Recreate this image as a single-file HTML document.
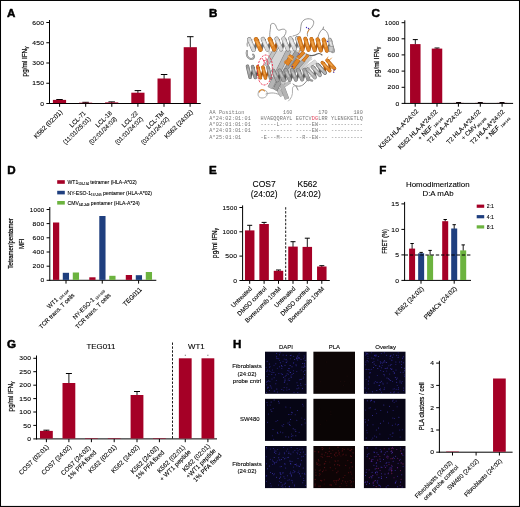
<!DOCTYPE html>
<html><head><meta charset="utf-8"><title>Figure</title>
<style>html,body{margin:0;padding:0;background:#fff;overflow:hidden}svg{display:block}</style></head>
<body>
<svg width="520" height="507" viewBox="0 0 520 507" font-family='"Liberation Sans", Arial, sans-serif'>
<rect x="0.00" y="0.00" width="520.00" height="507.00" fill="#fff"/>
<rect x="0.5" y="0.45" width="519" height="506" fill="none" stroke="#000" stroke-width="1.05"/>
<text transform="translate(6.90,16.70) scale(1.0,1)" font-size="11.6" text-anchor="start" font-weight="bold" fill="#000" stroke="#000" stroke-width="0.5" stroke-linejoin="round">A</text>
<text transform="translate(209.10,16.70) scale(1.0,1)" font-size="11.6" text-anchor="start" font-weight="bold" fill="#000" stroke="#000" stroke-width="0.5" stroke-linejoin="round">B</text>
<text transform="translate(371.40,16.90) scale(1.0,1)" font-size="11.6" text-anchor="start" font-weight="bold" fill="#000" stroke="#000" stroke-width="0.5" stroke-linejoin="round">C</text>
<text transform="translate(7.30,174.30) scale(1.0,1)" font-size="11.6" text-anchor="start" font-weight="bold" fill="#000" stroke="#000" stroke-width="0.5" stroke-linejoin="round">D</text>
<text transform="translate(209.10,174.30) scale(1.0,1)" font-size="11.6" text-anchor="start" font-weight="bold" fill="#000" stroke="#000" stroke-width="0.5" stroke-linejoin="round">E</text>
<text transform="translate(379.30,174.30) scale(1.0,1)" font-size="11.6" text-anchor="start" font-weight="bold" fill="#000" stroke="#000" stroke-width="0.5" stroke-linejoin="round">F</text>
<text transform="translate(6.90,348.10) scale(1.0,1)" font-size="11.6" text-anchor="start" font-weight="bold" fill="#000" stroke="#000" stroke-width="0.5" stroke-linejoin="round">G</text>
<text transform="translate(232.90,348.10) scale(1.0,1)" font-size="11.6" text-anchor="start" font-weight="bold" fill="#000" stroke="#000" stroke-width="0.5" stroke-linejoin="round">H</text>
<line x1="49.50" y1="20.00" x2="49.50" y2="104.00" stroke="#000" stroke-width="1.0" />
<line x1="49.00" y1="103.50" x2="200.70" y2="103.50" stroke="#000" stroke-width="1.0" />
<line x1="46.30" y1="22.50" x2="49.50" y2="22.50" stroke="#000" stroke-width="1.0" />
<text transform="translate(44.30,24.66) scale(1.12,1)" font-size="6.0" text-anchor="end" font-weight="normal" fill="#000" letter-spacing="0.28" stroke="#000" stroke-width="0.1">600</text>
<line x1="46.30" y1="42.75" x2="49.50" y2="42.75" stroke="#000" stroke-width="1.0" />
<text transform="translate(44.30,44.91) scale(1.12,1)" font-size="6.0" text-anchor="end" font-weight="normal" fill="#000" letter-spacing="0.28" stroke="#000" stroke-width="0.1">450</text>
<line x1="46.30" y1="63.00" x2="49.50" y2="63.00" stroke="#000" stroke-width="1.0" />
<text transform="translate(44.30,65.16) scale(1.12,1)" font-size="6.0" text-anchor="end" font-weight="normal" fill="#000" letter-spacing="0.28" stroke="#000" stroke-width="0.1">300</text>
<line x1="46.30" y1="83.25" x2="49.50" y2="83.25" stroke="#000" stroke-width="1.0" />
<text transform="translate(44.30,85.41) scale(1.12,1)" font-size="6.0" text-anchor="end" font-weight="normal" fill="#000" letter-spacing="0.28" stroke="#000" stroke-width="0.1">150</text>
<line x1="46.30" y1="103.50" x2="49.50" y2="103.50" stroke="#000" stroke-width="1.0" />
<text transform="translate(44.30,105.66) scale(1.12,1)" font-size="6.0" text-anchor="end" font-weight="normal" fill="#000" letter-spacing="0.28" stroke="#000" stroke-width="0.1">0</text>
<line x1="59.60" y1="103.50" x2="59.60" y2="106.80" stroke="#000" stroke-width="1.0" />
<line x1="85.70" y1="103.50" x2="85.70" y2="106.80" stroke="#000" stroke-width="1.0" />
<line x1="111.80" y1="103.50" x2="111.80" y2="106.80" stroke="#000" stroke-width="1.0" />
<line x1="137.90" y1="103.50" x2="137.90" y2="106.80" stroke="#000" stroke-width="1.0" />
<line x1="164.00" y1="103.50" x2="164.00" y2="106.80" stroke="#000" stroke-width="1.0" />
<line x1="190.10" y1="103.50" x2="190.10" y2="106.80" stroke="#000" stroke-width="1.0" />
<line x1="59.50" y1="99.50" x2="59.50" y2="100.40" stroke="#000" stroke-width="0.9" />
<line x1="56.25" y1="99.50" x2="62.75" y2="99.50" stroke="#000" stroke-width="1.0" />
<rect x="52.90" y="99.90" width="13.20" height="3.20" fill="#a50026"/>
<line x1="85.60" y1="102.30" x2="85.60" y2="103.20" stroke="#000" stroke-width="0.9" />
<line x1="82.35" y1="102.30" x2="88.85" y2="102.30" stroke="#000" stroke-width="1.0" />
<rect x="79.00" y="102.70" width="13.20" height="0.40" fill="#a50026"/>
<line x1="111.70" y1="101.90" x2="111.70" y2="102.90" stroke="#000" stroke-width="0.9" />
<line x1="108.45" y1="101.90" x2="114.95" y2="101.90" stroke="#000" stroke-width="1.0" />
<rect x="105.10" y="102.40" width="13.20" height="0.70" fill="#a50026"/>
<line x1="137.90" y1="90.60" x2="137.90" y2="93.20" stroke="#000" stroke-width="0.9" />
<line x1="134.65" y1="90.60" x2="141.15" y2="90.60" stroke="#000" stroke-width="1.0" />
<rect x="131.30" y="92.70" width="13.20" height="10.40" fill="#a50026"/>
<line x1="164.10" y1="74.50" x2="164.10" y2="79.00" stroke="#000" stroke-width="0.9" />
<line x1="160.85" y1="74.50" x2="167.35" y2="74.50" stroke="#000" stroke-width="1.0" />
<rect x="157.50" y="78.50" width="13.20" height="24.60" fill="#a50026"/>
<line x1="190.30" y1="36.70" x2="190.30" y2="47.70" stroke="#000" stroke-width="0.9" />
<line x1="187.05" y1="36.70" x2="193.55" y2="36.70" stroke="#000" stroke-width="1.0" />
<rect x="183.70" y="47.20" width="13.20" height="55.90" fill="#a50026"/>
<g transform="translate(27.30,61.50) rotate(-90) scale(0.84,1)"><text x="0" y="0" font-size="7.6" text-anchor="middle" font-weight="normal" stroke="#000" stroke-width="0.2">pg/ml IFN<tspan font-size="5.2" dy="1">γ</tspan></text></g>
<g transform="translate(62.80,112.60) rotate(-45) scale(0.98,1)">
<text x="0.00" y="0.00" font-size="6.6" text-anchor="end" stroke="#000" stroke-width="0.1">K562 (02:01)</text>
</g>
<g transform="translate(86.30,113.50) rotate(-45) scale(0.98,1)">
<text x="0.00" y="0.00" font-size="6.3" text-anchor="end" stroke="#000" stroke-width="0.1">LCL-71</text>
<text x="-0.60" y="7.50" font-size="6.3" text-anchor="end" stroke="#000" stroke-width="0.1">(11:01/25:01)</text>
</g>
<g transform="translate(112.40,113.50) rotate(-45) scale(0.98,1)">
<text x="0.00" y="0.00" font-size="6.3" text-anchor="end" stroke="#000" stroke-width="0.1">LCL-18</text>
<text x="-0.60" y="7.50" font-size="6.3" text-anchor="end" stroke="#000" stroke-width="0.1">(02:01/24:03)</text>
</g>
<g transform="translate(138.50,113.50) rotate(-45) scale(0.98,1)">
<text x="0.00" y="0.00" font-size="6.3" text-anchor="end" stroke="#000" stroke-width="0.1">LCL-22</text>
<text x="-0.60" y="7.50" font-size="6.3" text-anchor="end" stroke="#000" stroke-width="0.1">(01:01/24:02)</text>
</g>
<g transform="translate(164.60,113.50) rotate(-45) scale(0.98,1)">
<text x="0.00" y="0.00" font-size="6.3" text-anchor="end" stroke="#000" stroke-width="0.1">LCL-TM</text>
<text x="-0.60" y="7.50" font-size="6.3" text-anchor="end" stroke="#000" stroke-width="0.1">(03:01/24:02)</text>
</g>
<g transform="translate(193.30,112.60) rotate(-45) scale(0.98,1)">
<text x="0.00" y="0.00" font-size="6.6" text-anchor="end" stroke="#000" stroke-width="0.1">K562 (24:02)</text>
</g>
<line x1="404.80" y1="20.30" x2="404.80" y2="103.90" stroke="#000" stroke-width="1.0" />
<line x1="404.30" y1="103.40" x2="513.10" y2="103.40" stroke="#000" stroke-width="1.0" />
<line x1="401.60" y1="22.70" x2="404.80" y2="22.70" stroke="#000" stroke-width="1.0" />
<text transform="translate(399.60,24.86) scale(1.03,1)" font-size="6.0" text-anchor="end" font-weight="normal" fill="#000" letter-spacing="0.28" stroke="#000" stroke-width="0.1">1000</text>
<line x1="401.60" y1="38.80" x2="404.80" y2="38.80" stroke="#000" stroke-width="1.0" />
<text transform="translate(399.60,40.96) scale(1.12,1)" font-size="6.0" text-anchor="end" font-weight="normal" fill="#000" letter-spacing="0.28" stroke="#000" stroke-width="0.1">800</text>
<line x1="401.60" y1="54.90" x2="404.80" y2="54.90" stroke="#000" stroke-width="1.0" />
<text transform="translate(399.60,57.06) scale(1.12,1)" font-size="6.0" text-anchor="end" font-weight="normal" fill="#000" letter-spacing="0.28" stroke="#000" stroke-width="0.1">600</text>
<line x1="401.60" y1="71.10" x2="404.80" y2="71.10" stroke="#000" stroke-width="1.0" />
<text transform="translate(399.60,73.26) scale(1.12,1)" font-size="6.0" text-anchor="end" font-weight="normal" fill="#000" letter-spacing="0.28" stroke="#000" stroke-width="0.1">400</text>
<line x1="401.60" y1="87.30" x2="404.80" y2="87.30" stroke="#000" stroke-width="1.0" />
<text transform="translate(399.60,89.46) scale(1.12,1)" font-size="6.0" text-anchor="end" font-weight="normal" fill="#000" letter-spacing="0.28" stroke="#000" stroke-width="0.1">200</text>
<line x1="401.60" y1="103.40" x2="404.80" y2="103.40" stroke="#000" stroke-width="1.0" />
<text transform="translate(399.60,105.56) scale(1.12,1)" font-size="6.0" text-anchor="end" font-weight="normal" fill="#000" letter-spacing="0.28" stroke="#000" stroke-width="0.1">0</text>
<line x1="415.20" y1="103.40" x2="415.20" y2="106.70" stroke="#000" stroke-width="1.0" />
<line x1="437.00" y1="103.40" x2="437.00" y2="106.70" stroke="#000" stroke-width="1.0" />
<line x1="458.40" y1="103.40" x2="458.40" y2="106.70" stroke="#000" stroke-width="1.0" />
<line x1="480.30" y1="103.40" x2="480.30" y2="106.70" stroke="#000" stroke-width="1.0" />
<line x1="502.10" y1="103.40" x2="502.10" y2="106.70" stroke="#000" stroke-width="1.0" />
<line x1="415.30" y1="39.60" x2="415.30" y2="44.60" stroke="#000" stroke-width="0.9" />
<line x1="412.80" y1="39.60" x2="417.80" y2="39.60" stroke="#000" stroke-width="1.0" />
<rect x="410.05" y="44.10" width="10.50" height="58.90" fill="#a50026"/>
<line x1="437.00" y1="48.00" x2="437.00" y2="49.10" stroke="#000" stroke-width="0.9" />
<line x1="434.50" y1="48.00" x2="439.50" y2="48.00" stroke="#000" stroke-width="1.0" />
<rect x="431.75" y="48.60" width="10.50" height="54.40" fill="#a50026"/>
<line x1="458.60" y1="102.50" x2="458.60" y2="103.40" stroke="#000" stroke-width="0.9" />
<line x1="456.10" y1="102.50" x2="461.10" y2="102.50" stroke="#000" stroke-width="1.0" />
<rect x="453.35" y="102.90" width="10.50" height="0.10" fill="#a50026"/>
<line x1="480.30" y1="102.50" x2="480.30" y2="103.40" stroke="#000" stroke-width="0.9" />
<line x1="477.80" y1="102.50" x2="482.80" y2="102.50" stroke="#000" stroke-width="1.0" />
<rect x="475.05" y="102.90" width="10.50" height="0.10" fill="#a50026"/>
<line x1="502.00" y1="102.50" x2="502.00" y2="103.40" stroke="#000" stroke-width="0.9" />
<line x1="499.50" y1="102.50" x2="504.50" y2="102.50" stroke="#000" stroke-width="1.0" />
<rect x="496.75" y="102.90" width="10.50" height="0.10" fill="#a50026"/>
<g transform="translate(379.30,61.80) rotate(-90) scale(0.84,1)"><text x="0" y="0" font-size="7.6" text-anchor="middle" font-weight="normal" stroke="#000" stroke-width="0.2">pg/ml IFN<tspan font-size="5.2" dy="1">γ</tspan></text></g>
<g transform="translate(418.70,111.80) rotate(-45) scale(0.98,1)">
<text x="0.00" y="0.00" font-size="6.4" text-anchor="end" stroke="#000" stroke-width="0.1">K562 HLA-A*24:02</text>
</g>
<g transform="translate(437.90,112.40) rotate(-45) scale(0.98,1)">
<text x="0.00" y="0.00" font-size="6.4" text-anchor="end" stroke="#000" stroke-width="0.1">K562 HLA-A*24:02</text>
<text x="-0.60" y="7.50" font-size="6.4" text-anchor="end" stroke="#000" stroke-width="0.1">+ NEF <tspan font-size="3.4" dy="1.2">134-144</tspan><tspan dy="-1.2">​</tspan></text>
</g>
<g transform="translate(461.90,111.80) rotate(-45) scale(0.98,1)">
<text x="0.00" y="0.00" font-size="6.4" text-anchor="end" stroke="#000" stroke-width="0.1">T2 HLA-A*24:02</text>
</g>
<g transform="translate(481.20,112.40) rotate(-45) scale(0.98,1)">
<text x="0.00" y="0.00" font-size="6.4" text-anchor="end" stroke="#000" stroke-width="0.1">T2 HLA-A*24:02</text>
<text x="-0.60" y="7.50" font-size="6.4" text-anchor="end" stroke="#000" stroke-width="0.1">+ CMV<tspan font-size="3.4" dy="1.2">341-349</tspan><tspan dy="-1.2">​</tspan></text>
</g>
<g transform="translate(505.00,112.40) rotate(-45) scale(0.98,1)">
<text x="0.00" y="0.00" font-size="6.4" text-anchor="end" stroke="#000" stroke-width="0.1">T2 HLA-A*24:02</text>
<text x="-0.60" y="7.50" font-size="6.4" text-anchor="end" stroke="#000" stroke-width="0.1">+ NEF <tspan font-size="3.4" dy="1.2">134-144</tspan><tspan dy="-1.2">​</tspan></text>
</g>
<line x1="49.80" y1="207.00" x2="49.80" y2="280.80" stroke="#000" stroke-width="1.0" />
<line x1="49.30" y1="280.30" x2="156.30" y2="280.30" stroke="#000" stroke-width="1.0" />
<line x1="46.60" y1="209.50" x2="49.80" y2="209.50" stroke="#000" stroke-width="1.0" />
<text transform="translate(44.60,211.66) scale(1.03,1)" font-size="6.0" text-anchor="end" font-weight="normal" fill="#000" letter-spacing="0.28" stroke="#000" stroke-width="0.1">1000</text>
<line x1="46.60" y1="223.60" x2="49.80" y2="223.60" stroke="#000" stroke-width="1.0" />
<text transform="translate(44.60,225.76) scale(1.12,1)" font-size="6.0" text-anchor="end" font-weight="normal" fill="#000" letter-spacing="0.28" stroke="#000" stroke-width="0.1">800</text>
<line x1="46.60" y1="237.80" x2="49.80" y2="237.80" stroke="#000" stroke-width="1.0" />
<text transform="translate(44.60,239.96) scale(1.12,1)" font-size="6.0" text-anchor="end" font-weight="normal" fill="#000" letter-spacing="0.28" stroke="#000" stroke-width="0.1">600</text>
<line x1="46.60" y1="252.00" x2="49.80" y2="252.00" stroke="#000" stroke-width="1.0" />
<text transform="translate(44.60,254.16) scale(1.12,1)" font-size="6.0" text-anchor="end" font-weight="normal" fill="#000" letter-spacing="0.28" stroke="#000" stroke-width="0.1">400</text>
<line x1="46.60" y1="266.20" x2="49.80" y2="266.20" stroke="#000" stroke-width="1.0" />
<text transform="translate(44.60,268.36) scale(1.12,1)" font-size="6.0" text-anchor="end" font-weight="normal" fill="#000" letter-spacing="0.28" stroke="#000" stroke-width="0.1">200</text>
<line x1="46.60" y1="280.30" x2="49.80" y2="280.30" stroke="#000" stroke-width="1.0" />
<text transform="translate(44.60,282.46) scale(1.12,1)" font-size="6.0" text-anchor="end" font-weight="normal" fill="#000" letter-spacing="0.28" stroke="#000" stroke-width="0.1">0</text>
<line x1="66.00" y1="280.30" x2="66.00" y2="283.60" stroke="#000" stroke-width="1.0" />
<line x1="102.25" y1="280.30" x2="102.25" y2="283.60" stroke="#000" stroke-width="1.0" />
<line x1="138.60" y1="280.30" x2="138.60" y2="283.60" stroke="#000" stroke-width="1.0" />
<rect x="52.98" y="222.50" width="6.25" height="57.40" fill="#a50026"/>
<rect x="62.78" y="272.80" width="6.25" height="7.10" fill="#1f3f7f"/>
<rect x="72.78" y="272.50" width="6.25" height="7.40" fill="#6cb33f"/>
<rect x="89.28" y="277.30" width="6.25" height="2.60" fill="#a50026"/>
<rect x="99.28" y="216.00" width="6.25" height="63.90" fill="#1f3f7f"/>
<rect x="109.28" y="275.80" width="6.25" height="4.10" fill="#6cb33f"/>
<rect x="125.78" y="275.00" width="6.25" height="4.90" fill="#a50026"/>
<rect x="135.78" y="275.20" width="6.25" height="4.70" fill="#1f3f7f"/>
<rect x="145.78" y="272.00" width="6.25" height="7.90" fill="#6cb33f"/>
<g transform="translate(13.00,243.50) rotate(-90) scale(0.83,1)"><text x="0" y="0" font-size="7.2" text-anchor="middle" font-weight="normal" stroke="#000" stroke-width="0.2">Tetramer/pentamer</text></g>
<g transform="translate(24.30,243.70) rotate(-90) scale(0.85,1)"><text x="0" y="0" font-size="7.2" text-anchor="middle" font-weight="normal" stroke="#000" stroke-width="0.2">MFI</text></g>
<rect x="57.20" y="180.20" width="7.60" height="3.60" fill="#a50026"/>
<text transform="translate(67.50,184.10) scale(0.91,1)" font-size="5.6" text-anchor="start" font-weight="normal" fill="#000" stroke="#000" stroke-width="0.1">WT1<tspan font-size="3.2" dy="1.1">126-134</tspan><tspan dy="-1.1">​</tspan> tetramer (HLA-A*02)</text>
<rect x="57.20" y="190.80" width="7.60" height="3.60" fill="#1f3f7f"/>
<text transform="translate(67.50,194.70) scale(0.91,1)" font-size="5.6" text-anchor="start" font-weight="normal" fill="#000" stroke="#000" stroke-width="0.1">NY-ESO-1<tspan font-size="3.2" dy="1.1">157-165</tspan><tspan dy="-1.1">​</tspan> pentamer (HLA-A*02)</text>
<rect x="57.20" y="201.00" width="7.60" height="3.60" fill="#6cb33f"/>
<text transform="translate(67.50,204.90) scale(0.91,1)" font-size="5.6" text-anchor="start" font-weight="normal" fill="#000" stroke="#000" stroke-width="0.1">CMV<tspan font-size="3.2" dy="1.1">341-349</tspan><tspan dy="-1.1">​</tspan> pentamer (HLA-A*24)</text>
<g transform="translate(68.30,290.40) rotate(-45) scale(0.98,1)">
<text x="-0.00" y="0.00" font-size="6.1" text-anchor="end" stroke="#000" stroke-width="0.1">WT1 <tspan font-size="3.4" dy="1.2">126-134</tspan><tspan dy="-1.2">​</tspan></text>
<text x="1.00" y="8.40" font-size="6.1" text-anchor="end" stroke="#000" stroke-width="0.1">TCR trans. T cells</text>
</g>
<g transform="translate(104.55,290.40) rotate(-45) scale(0.98,1)">
<text x="-0.00" y="0.00" font-size="6.1" text-anchor="end" stroke="#000" stroke-width="0.1">NY-ESO-1 <tspan font-size="3.4" dy="1.2">157-165</tspan><tspan dy="-1.2">​</tspan></text>
<text x="1.00" y="8.40" font-size="6.1" text-anchor="end" stroke="#000" stroke-width="0.1">TCR trans. T cells</text>
</g>
<g transform="translate(142.20,290.00) rotate(-45) scale(0.98,1)">
<text x="0.00" y="0.00" font-size="6.6" text-anchor="end" stroke="#000" stroke-width="0.1">TEG011</text>
</g>
<line x1="242.60" y1="205.40" x2="242.60" y2="281.00" stroke="#000" stroke-width="1.0" />
<line x1="242.10" y1="280.50" x2="329.80" y2="280.50" stroke="#000" stroke-width="1.0" />
<line x1="239.40" y1="207.50" x2="242.60" y2="207.50" stroke="#000" stroke-width="1.0" />
<text transform="translate(237.40,209.66) scale(1.03,1)" font-size="6.0" text-anchor="end" font-weight="normal" fill="#000" letter-spacing="0.28" stroke="#000" stroke-width="0.1">1500</text>
<line x1="239.40" y1="231.80" x2="242.60" y2="231.80" stroke="#000" stroke-width="1.0" />
<text transform="translate(237.40,233.96) scale(1.03,1)" font-size="6.0" text-anchor="end" font-weight="normal" fill="#000" letter-spacing="0.28" stroke="#000" stroke-width="0.1">1000</text>
<line x1="239.40" y1="256.10" x2="242.60" y2="256.10" stroke="#000" stroke-width="1.0" />
<text transform="translate(237.40,258.26) scale(1.12,1)" font-size="6.0" text-anchor="end" font-weight="normal" fill="#000" letter-spacing="0.28" stroke="#000" stroke-width="0.1">500</text>
<line x1="239.40" y1="280.50" x2="242.60" y2="280.50" stroke="#000" stroke-width="1.0" />
<text transform="translate(237.40,282.66) scale(1.12,1)" font-size="6.0" text-anchor="end" font-weight="normal" fill="#000" letter-spacing="0.28" stroke="#000" stroke-width="0.1">0</text>
<line x1="249.70" y1="280.50" x2="249.70" y2="283.80" stroke="#000" stroke-width="1.0" />
<line x1="264.10" y1="280.50" x2="264.10" y2="283.80" stroke="#000" stroke-width="1.0" />
<line x1="278.50" y1="280.50" x2="278.50" y2="283.80" stroke="#000" stroke-width="1.0" />
<line x1="293.00" y1="280.50" x2="293.00" y2="283.80" stroke="#000" stroke-width="1.0" />
<line x1="307.30" y1="280.50" x2="307.30" y2="283.80" stroke="#000" stroke-width="1.0" />
<line x1="321.80" y1="280.50" x2="321.80" y2="283.80" stroke="#000" stroke-width="1.0" />
<line x1="249.70" y1="225.30" x2="249.70" y2="230.90" stroke="#000" stroke-width="0.9" />
<line x1="247.20" y1="225.30" x2="252.20" y2="225.30" stroke="#000" stroke-width="1.0" />
<rect x="244.95" y="230.40" width="9.50" height="49.70" fill="#a50026"/>
<line x1="264.10" y1="222.40" x2="264.10" y2="224.50" stroke="#000" stroke-width="0.9" />
<line x1="261.60" y1="222.40" x2="266.60" y2="222.40" stroke="#000" stroke-width="1.0" />
<rect x="259.35" y="224.00" width="9.50" height="56.10" fill="#a50026"/>
<line x1="278.50" y1="270.00" x2="278.50" y2="271.30" stroke="#000" stroke-width="0.9" />
<line x1="276.00" y1="270.00" x2="281.00" y2="270.00" stroke="#000" stroke-width="1.0" />
<rect x="273.75" y="270.80" width="9.50" height="9.30" fill="#a50026"/>
<line x1="293.00" y1="241.70" x2="293.00" y2="247.10" stroke="#000" stroke-width="0.9" />
<line x1="290.50" y1="241.70" x2="295.50" y2="241.70" stroke="#000" stroke-width="1.0" />
<rect x="288.25" y="246.60" width="9.50" height="33.50" fill="#a50026"/>
<line x1="307.30" y1="238.20" x2="307.30" y2="247.40" stroke="#000" stroke-width="0.9" />
<line x1="304.80" y1="238.20" x2="309.80" y2="238.20" stroke="#000" stroke-width="1.0" />
<rect x="302.55" y="246.90" width="9.50" height="33.20" fill="#a50026"/>
<line x1="321.80" y1="265.70" x2="321.80" y2="267.00" stroke="#000" stroke-width="0.9" />
<line x1="319.30" y1="265.70" x2="324.30" y2="265.70" stroke="#000" stroke-width="1.0" />
<rect x="317.05" y="266.50" width="9.50" height="13.60" fill="#a50026"/>
<line x1="285.70" y1="207.20" x2="285.70" y2="280.50" stroke="#000" stroke-width="0.9" stroke-dasharray="2.4 1.5"/>
<g transform="translate(217.20,243.00) rotate(-90) scale(0.84,1)"><text x="0" y="0" font-size="7.6" text-anchor="middle" font-weight="normal" stroke="#000" stroke-width="0.2">pg/ml IFN<tspan font-size="5.2" dy="1">γ</tspan></text></g>
<text transform="translate(264.20,186.60) scale(1.0,1)" font-size="8.5" text-anchor="middle" font-weight="normal" fill="#000" stroke="#000" stroke-width="0.1">COS7</text>
<text transform="translate(264.20,196.80) scale(1.0,1)" font-size="8.5" text-anchor="middle" font-weight="normal" fill="#000" stroke="#000" stroke-width="0.1">(24:02)</text>
<text transform="translate(307.40,186.60) scale(1.0,1)" font-size="8.5" text-anchor="middle" font-weight="normal" fill="#000" stroke="#000" stroke-width="0.1">K562</text>
<text transform="translate(307.40,196.80) scale(1.0,1)" font-size="8.5" text-anchor="middle" font-weight="normal" fill="#000" stroke="#000" stroke-width="0.1">(24:02)</text>
<g transform="translate(252.50,289.10) rotate(-45) scale(0.98,1)">
<text x="0.00" y="0.00" font-size="6.25" text-anchor="end" stroke="#000" stroke-width="0.1">Untreated</text>
</g>
<g transform="translate(266.90,289.10) rotate(-45) scale(0.98,1)">
<text x="0.00" y="0.00" font-size="6.25" text-anchor="end" stroke="#000" stroke-width="0.1">DMSO control</text>
</g>
<g transform="translate(281.30,289.10) rotate(-45) scale(0.98,1)">
<text x="0.00" y="0.00" font-size="6.25" text-anchor="end" stroke="#000" stroke-width="0.1">Bortezomib 10nM</text>
</g>
<g transform="translate(295.80,289.10) rotate(-45) scale(0.98,1)">
<text x="0.00" y="0.00" font-size="6.25" text-anchor="end" stroke="#000" stroke-width="0.1">Untreated</text>
</g>
<g transform="translate(310.10,289.10) rotate(-45) scale(0.98,1)">
<text x="0.00" y="0.00" font-size="6.25" text-anchor="end" stroke="#000" stroke-width="0.1">DMSO control</text>
</g>
<g transform="translate(324.60,289.10) rotate(-45) scale(0.98,1)">
<text x="0.00" y="0.00" font-size="6.25" text-anchor="end" stroke="#000" stroke-width="0.1">Bortezomib 10nM</text>
</g>
<line x1="404.60" y1="201.90" x2="404.60" y2="280.90" stroke="#000" stroke-width="1.0" />
<line x1="404.10" y1="280.40" x2="471.00" y2="280.40" stroke="#000" stroke-width="1.0" />
<line x1="401.40" y1="203.90" x2="404.60" y2="203.90" stroke="#000" stroke-width="1.0" />
<text transform="translate(399.40,206.06) scale(1.12,1)" font-size="6.0" text-anchor="end" font-weight="normal" fill="#000" letter-spacing="0.28" stroke="#000" stroke-width="0.1">15</text>
<line x1="401.40" y1="229.40" x2="404.60" y2="229.40" stroke="#000" stroke-width="1.0" />
<text transform="translate(399.40,231.56) scale(1.12,1)" font-size="6.0" text-anchor="end" font-weight="normal" fill="#000" letter-spacing="0.28" stroke="#000" stroke-width="0.1">10</text>
<line x1="401.40" y1="254.90" x2="404.60" y2="254.90" stroke="#000" stroke-width="1.0" />
<text transform="translate(399.40,257.06) scale(1.12,1)" font-size="6.0" text-anchor="end" font-weight="normal" fill="#000" letter-spacing="0.28" stroke="#000" stroke-width="0.1">5</text>
<line x1="401.40" y1="280.40" x2="404.60" y2="280.40" stroke="#000" stroke-width="1.0" />
<text transform="translate(399.40,282.56) scale(1.12,1)" font-size="6.0" text-anchor="end" font-weight="normal" fill="#000" letter-spacing="0.28" stroke="#000" stroke-width="0.1">0</text>
<line x1="421.00" y1="280.40" x2="421.00" y2="283.70" stroke="#000" stroke-width="1.0" />
<line x1="454.20" y1="280.40" x2="454.20" y2="283.70" stroke="#000" stroke-width="1.0" />
<line x1="412.10" y1="243.50" x2="412.10" y2="249.10" stroke="#000" stroke-width="0.9" />
<line x1="410.40" y1="243.50" x2="413.80" y2="243.50" stroke="#000" stroke-width="1.0" />
<rect x="409.10" y="248.60" width="6.00" height="31.40" fill="#a50026"/>
<line x1="421.15" y1="252.40" x2="421.15" y2="253.80" stroke="#000" stroke-width="0.9" />
<line x1="419.45" y1="252.40" x2="422.85" y2="252.40" stroke="#000" stroke-width="1.0" />
<rect x="418.15" y="253.30" width="6.00" height="26.70" fill="#1f3f7f"/>
<line x1="430.10" y1="250.40" x2="430.10" y2="255.80" stroke="#000" stroke-width="0.9" />
<line x1="428.40" y1="250.40" x2="431.80" y2="250.40" stroke="#000" stroke-width="1.0" />
<rect x="427.10" y="255.30" width="6.00" height="24.70" fill="#6cb33f"/>
<line x1="445.20" y1="219.50" x2="445.20" y2="221.70" stroke="#000" stroke-width="0.9" />
<line x1="443.50" y1="219.50" x2="446.90" y2="219.50" stroke="#000" stroke-width="1.0" />
<rect x="442.20" y="221.20" width="6.00" height="58.80" fill="#a50026"/>
<line x1="454.20" y1="224.70" x2="454.20" y2="229.00" stroke="#000" stroke-width="0.9" />
<line x1="452.50" y1="224.70" x2="455.90" y2="224.70" stroke="#000" stroke-width="1.0" />
<rect x="451.20" y="228.50" width="6.00" height="51.50" fill="#1f3f7f"/>
<line x1="463.20" y1="244.90" x2="463.20" y2="250.90" stroke="#000" stroke-width="0.9" />
<line x1="461.50" y1="244.90" x2="464.90" y2="244.90" stroke="#000" stroke-width="1.0" />
<rect x="460.20" y="250.40" width="6.00" height="29.60" fill="#6cb33f"/>
<line x1="404.60" y1="255.00" x2="471.00" y2="255.00" stroke="#000" stroke-width="1.0" stroke-dasharray="3.4 1.8"/>
<g transform="translate(386.80,241.50) rotate(-90) scale(0.7,1)"><text x="0" y="0" font-size="8" text-anchor="middle" font-weight="normal" stroke="#000" stroke-width="0.2">FRET (%)</text></g>
<text transform="translate(437.80,186.60) scale(1.0,1)" font-size="7.9" text-anchor="middle" font-weight="normal" fill="#000" stroke="#000" stroke-width="0.1">Homodimerization</text>
<text transform="translate(438.00,196.30) scale(1.0,1)" font-size="7.9" text-anchor="middle" font-weight="normal" fill="#000" stroke="#000" stroke-width="0.1">D:A mAb</text>
<rect x="476.70" y="204.60" width="7.50" height="3.20" fill="#a50026"/>
<text transform="translate(486.80,208.30) scale(0.91,1)" font-size="5.6" text-anchor="start" font-weight="normal" fill="#000" stroke="#000" stroke-width="0.1">2:1</text>
<rect x="476.70" y="215.10" width="7.50" height="3.20" fill="#1f3f7f"/>
<text transform="translate(486.80,218.80) scale(0.91,1)" font-size="5.6" text-anchor="start" font-weight="normal" fill="#000" stroke="#000" stroke-width="0.1">4:1</text>
<rect x="476.70" y="225.30" width="7.50" height="3.20" fill="#6cb33f"/>
<text transform="translate(486.80,229.00) scale(0.91,1)" font-size="5.6" text-anchor="start" font-weight="normal" fill="#000" stroke="#000" stroke-width="0.1">8:1</text>
<g transform="translate(424.20,289.10) rotate(-45) scale(0.98,1)">
<text x="0.00" y="0.00" font-size="6.7" text-anchor="end" stroke="#000" stroke-width="0.1">K562 (24:02)</text>
</g>
<g transform="translate(457.20,289.10) rotate(-45) scale(0.98,1)">
<text x="0.00" y="0.00" font-size="6.5" text-anchor="end" stroke="#000" stroke-width="0.1">PBMCs (24:02)</text>
</g>
<line x1="36.50" y1="355.50" x2="36.50" y2="439.40" stroke="#000" stroke-width="1.0" />
<line x1="36.00" y1="438.90" x2="217.00" y2="438.90" stroke="#000" stroke-width="1.0" />
<line x1="33.30" y1="358.30" x2="36.50" y2="358.30" stroke="#000" stroke-width="1.0" />
<text transform="translate(31.30,360.46) scale(1.12,1)" font-size="6.0" text-anchor="end" font-weight="normal" fill="#000" letter-spacing="0.28" stroke="#000" stroke-width="0.1">300</text>
<line x1="33.30" y1="371.70" x2="36.50" y2="371.70" stroke="#000" stroke-width="1.0" />
<text transform="translate(31.30,373.86) scale(1.12,1)" font-size="6.0" text-anchor="end" font-weight="normal" fill="#000" letter-spacing="0.28" stroke="#000" stroke-width="0.1">250</text>
<line x1="33.30" y1="385.20" x2="36.50" y2="385.20" stroke="#000" stroke-width="1.0" />
<text transform="translate(31.30,387.36) scale(1.12,1)" font-size="6.0" text-anchor="end" font-weight="normal" fill="#000" letter-spacing="0.28" stroke="#000" stroke-width="0.1">200</text>
<line x1="33.30" y1="398.60" x2="36.50" y2="398.60" stroke="#000" stroke-width="1.0" />
<text transform="translate(31.30,400.76) scale(1.12,1)" font-size="6.0" text-anchor="end" font-weight="normal" fill="#000" letter-spacing="0.28" stroke="#000" stroke-width="0.1">150</text>
<line x1="33.30" y1="412.00" x2="36.50" y2="412.00" stroke="#000" stroke-width="1.0" />
<text transform="translate(31.30,414.16) scale(1.12,1)" font-size="6.0" text-anchor="end" font-weight="normal" fill="#000" letter-spacing="0.28" stroke="#000" stroke-width="0.1">100</text>
<line x1="33.30" y1="425.40" x2="36.50" y2="425.40" stroke="#000" stroke-width="1.0" />
<text transform="translate(31.30,427.56) scale(1.12,1)" font-size="6.0" text-anchor="end" font-weight="normal" fill="#000" letter-spacing="0.28" stroke="#000" stroke-width="0.1">50</text>
<line x1="33.30" y1="438.90" x2="36.50" y2="438.90" stroke="#000" stroke-width="1.0" />
<text transform="translate(31.30,441.06) scale(1.12,1)" font-size="6.0" text-anchor="end" font-weight="normal" fill="#000" letter-spacing="0.28" stroke="#000" stroke-width="0.1">0</text>
<line x1="46.40" y1="438.90" x2="46.40" y2="442.20" stroke="#000" stroke-width="1.0" />
<line x1="68.90" y1="438.90" x2="68.90" y2="442.20" stroke="#000" stroke-width="1.0" />
<line x1="91.40" y1="438.90" x2="91.40" y2="442.20" stroke="#000" stroke-width="1.0" />
<line x1="114.20" y1="438.90" x2="114.20" y2="442.20" stroke="#000" stroke-width="1.0" />
<line x1="137.00" y1="438.90" x2="137.00" y2="442.20" stroke="#000" stroke-width="1.0" />
<line x1="159.40" y1="438.90" x2="159.40" y2="442.20" stroke="#000" stroke-width="1.0" />
<line x1="185.25" y1="438.90" x2="185.25" y2="442.20" stroke="#000" stroke-width="1.0" />
<line x1="207.90" y1="438.90" x2="207.90" y2="442.20" stroke="#000" stroke-width="1.0" />
<line x1="46.40" y1="430.20" x2="46.40" y2="431.40" stroke="#000" stroke-width="0.9" />
<line x1="43.40" y1="430.20" x2="49.40" y2="430.20" stroke="#000" stroke-width="1.0" />
<rect x="40.00" y="430.90" width="12.80" height="7.60" fill="#a50026"/>
<line x1="68.90" y1="373.50" x2="68.90" y2="383.50" stroke="#000" stroke-width="0.9" />
<line x1="65.90" y1="373.50" x2="71.90" y2="373.50" stroke="#000" stroke-width="1.0" />
<rect x="62.50" y="383.00" width="12.80" height="55.50" fill="#a50026"/>
<rect x="85.00" y="438.00" width="12.80" height="0.50" fill="#a50026"/>
<rect x="107.80" y="438.00" width="12.80" height="0.50" fill="#a50026"/>
<line x1="137.00" y1="391.50" x2="137.00" y2="395.50" stroke="#000" stroke-width="0.9" />
<line x1="134.00" y1="391.50" x2="140.00" y2="391.50" stroke="#000" stroke-width="1.0" />
<rect x="130.60" y="395.00" width="12.80" height="43.50" fill="#a50026"/>
<rect x="153.00" y="438.00" width="12.80" height="0.50" fill="#a50026"/>
<rect x="178.85" y="358.30" width="12.80" height="80.20" fill="#a50026"/>
<rect x="201.50" y="358.30" width="12.80" height="80.20" fill="#a50026"/>
<rect x="184.85" y="354.80" width="0.80" height="0.80" fill="#000"/>
<rect x="207.50" y="354.80" width="0.80" height="0.80" fill="#000"/>
<line x1="172.50" y1="342.50" x2="172.50" y2="438.90" stroke="#000" stroke-width="0.9" stroke-dasharray="2.4 1.5"/>
<g transform="translate(13.30,396.50) rotate(-90) scale(0.84,1)"><text x="0" y="0" font-size="7.6" text-anchor="middle" font-weight="normal" stroke="#000" stroke-width="0.2">pg/ml IFN<tspan font-size="5.2" dy="1">γ</tspan></text></g>
<text transform="translate(100.90,348.80) scale(1.0,1)" font-size="7.9" text-anchor="middle" font-weight="normal" fill="#000" stroke="#000" stroke-width="0.1">TEG011</text>
<text transform="translate(196.30,348.80) scale(1.0,1)" font-size="7.9" text-anchor="middle" font-weight="normal" fill="#000" stroke="#000" stroke-width="0.1">WT1</text>
<g transform="translate(49.20,447.60) rotate(-45) scale(0.98,1)">
<text x="0.00" y="0.00" font-size="6.5" text-anchor="end" stroke="#000" stroke-width="0.1">COS7 (02:01)</text>
</g>
<g transform="translate(71.70,447.60) rotate(-45) scale(0.98,1)">
<text x="0.00" y="0.00" font-size="6.5" text-anchor="end" stroke="#000" stroke-width="0.1">COS7 (24:02)</text>
</g>
<g transform="translate(91.00,448.30) rotate(-45) scale(0.98,1)">
<text x="-0.00" y="0.00" font-size="6.45" text-anchor="end" stroke="#000" stroke-width="0.1">COS7 (24:02)</text>
<text x="0.80" y="7.40" font-size="6.45" text-anchor="end" stroke="#000" stroke-width="0.1">1% PFA fixed</text>
</g>
<g transform="translate(117.00,447.60) rotate(-45) scale(0.98,1)">
<text x="0.00" y="0.00" font-size="6.5" text-anchor="end" stroke="#000" stroke-width="0.1">K562 (02:01)</text>
</g>
<g transform="translate(139.80,447.60) rotate(-45) scale(0.98,1)">
<text x="0.00" y="0.00" font-size="6.5" text-anchor="end" stroke="#000" stroke-width="0.1">K562 (24:02)</text>
</g>
<g transform="translate(159.00,448.30) rotate(-45) scale(0.98,1)">
<text x="-0.00" y="0.00" font-size="6.45" text-anchor="end" stroke="#000" stroke-width="0.1">K562 (24:02)</text>
<text x="0.80" y="7.40" font-size="6.45" text-anchor="end" stroke="#000" stroke-width="0.1">1% PFA fixed</text>
</g>
<g transform="translate(185.45,447.80) rotate(-45) scale(0.98,1)">
<text x="-0.00" y="0.00" font-size="6.4" text-anchor="end" stroke="#000" stroke-width="0.1">K562 (02:01)</text>
<text x="0.80" y="7.40" font-size="6.4" text-anchor="end" stroke="#000" stroke-width="0.1">+ WT1 peptide</text>
</g>
<g transform="translate(210.50,446.50) rotate(-45) scale(0.98,1)">
<text x="-0.00" y="0.00" font-size="6.4" text-anchor="end" stroke="#000" stroke-width="0.1">K562 (02:01)</text>
<text x="0.80" y="7.40" font-size="6.4" text-anchor="end" stroke="#000" stroke-width="0.1">+WT1 peptide</text>
<text x="1.60" y="14.80" font-size="6.4" text-anchor="end" stroke="#000" stroke-width="0.1">1% PFA fixed</text>
</g>
<rect x="265.00" y="351.70" width="41.60" height="42.10" fill="#07061b"/>
<circle cx="278.8" cy="358.7" r="0.5" fill="#3a32b0" opacity="0.85"/>
<circle cx="268.9" cy="374.2" r="0.5" fill="#2c2690" opacity="0.85"/>
<circle cx="289.1" cy="389.2" r="0.5" fill="#4840c4" opacity="0.85"/>
<circle cx="267.5" cy="370.1" r="0.5" fill="#3a32b0" opacity="0.85"/>
<circle cx="275.5" cy="374.8" r="0.5" fill="#3a32b0" opacity="0.85"/>
<circle cx="298.7" cy="357.7" r="0.5" fill="#4840c4" opacity="0.85"/>
<circle cx="291.0" cy="376.1" r="0.5" fill="#3a32b0" opacity="0.85"/>
<circle cx="288.9" cy="368.6" r="0.5" fill="#4840c4" opacity="0.85"/>
<circle cx="267.8" cy="387.1" r="0.5" fill="#2c2690" opacity="0.85"/>
<circle cx="282.6" cy="374.4" r="0.5" fill="#2c2690" opacity="0.85"/>
<circle cx="288.2" cy="380.0" r="0.5" fill="#3a32b0" opacity="0.85"/>
<circle cx="289.0" cy="378.3" r="0.5" fill="#2c2690" opacity="0.85"/>
<circle cx="269.9" cy="381.3" r="0.5" fill="#3a32b0" opacity="0.85"/>
<circle cx="290.5" cy="372.6" r="0.5" fill="#342ca0" opacity="0.85"/>
<circle cx="296.8" cy="371.4" r="0.5" fill="#342ca0" opacity="0.85"/>
<circle cx="280.3" cy="362.7" r="0.5" fill="#4840c4" opacity="0.85"/>
<circle cx="293.7" cy="362.5" r="0.5" fill="#2c2690" opacity="0.85"/>
<circle cx="286.8" cy="387.8" r="0.5" fill="#342ca0" opacity="0.85"/>
<circle cx="277.4" cy="392.0" r="0.5" fill="#3a32b0" opacity="0.85"/>
<circle cx="286.3" cy="359.3" r="0.5" fill="#2c2690" opacity="0.85"/>
<circle cx="272.0" cy="372.3" r="0.5" fill="#3a32b0" opacity="0.85"/>
<circle cx="304.1" cy="355.8" r="0.5" fill="#2c2690" opacity="0.85"/>
<circle cx="279.5" cy="366.7" r="0.5" fill="#342ca0" opacity="0.85"/>
<circle cx="289.0" cy="371.0" r="0.5" fill="#3a32b0" opacity="0.85"/>
<circle cx="303.4" cy="371.7" r="0.5" fill="#3a32b0" opacity="0.85"/>
<circle cx="268.4" cy="380.8" r="0.5" fill="#342ca0" opacity="0.85"/>
<circle cx="277.3" cy="368.2" r="0.5" fill="#2c2690" opacity="0.85"/>
<circle cx="266.9" cy="371.2" r="0.5" fill="#4840c4" opacity="0.85"/>
<circle cx="290.2" cy="372.5" r="0.5" fill="#4840c4" opacity="0.85"/>
<circle cx="296.4" cy="357.9" r="0.5" fill="#4840c4" opacity="0.85"/>
<circle cx="281.8" cy="389.5" r="0.5" fill="#342ca0" opacity="0.85"/>
<circle cx="269.2" cy="370.7" r="0.5" fill="#2c2690" opacity="0.85"/>
<circle cx="301.0" cy="385.6" r="0.5" fill="#2c2690" opacity="0.85"/>
<circle cx="294.0" cy="392.3" r="0.5" fill="#342ca0" opacity="0.85"/>
<circle cx="303.9" cy="358.8" r="0.5" fill="#4840c4" opacity="0.85"/>
<circle cx="272.0" cy="379.1" r="0.5" fill="#3a32b0" opacity="0.85"/>
<circle cx="285.2" cy="376.3" r="0.5" fill="#2c2690" opacity="0.85"/>
<circle cx="277.2" cy="358.5" r="0.5" fill="#2c2690" opacity="0.85"/>
<circle cx="290.1" cy="365.5" r="0.5" fill="#4840c4" opacity="0.85"/>
<circle cx="293.3" cy="373.4" r="0.5" fill="#3a32b0" opacity="0.85"/>
<circle cx="284.1" cy="387.6" r="0.5" fill="#342ca0" opacity="0.85"/>
<circle cx="281.8" cy="368.5" r="0.5" fill="#342ca0" opacity="0.85"/>
<circle cx="291.1" cy="355.2" r="0.5" fill="#3a32b0" opacity="0.85"/>
<circle cx="305.0" cy="370.4" r="0.5" fill="#3a32b0" opacity="0.85"/>
<circle cx="279.5" cy="354.8" r="0.5" fill="#3a32b0" opacity="0.85"/>
<circle cx="288.4" cy="374.2" r="0.5" fill="#2c2690" opacity="0.85"/>
<circle cx="290.3" cy="355.5" r="0.5" fill="#4840c4" opacity="0.85"/>
<circle cx="290.3" cy="358.7" r="0.5" fill="#2c2690" opacity="0.85"/>
<circle cx="303.8" cy="376.9" r="0.5" fill="#342ca0" opacity="0.85"/>
<circle cx="270.9" cy="386.7" r="0.5" fill="#342ca0" opacity="0.85"/>
<circle cx="285.0" cy="365.2" r="0.5" fill="#4840c4" opacity="0.85"/>
<circle cx="270.0" cy="366.4" r="0.5" fill="#2c2690" opacity="0.85"/>
<circle cx="285.0" cy="380.5" r="0.5" fill="#3a32b0" opacity="0.85"/>
<circle cx="274.1" cy="390.9" r="0.5" fill="#2c2690" opacity="0.85"/>
<circle cx="271.8" cy="374.5" r="0.5" fill="#3a32b0" opacity="0.85"/>
<circle cx="296.0" cy="364.7" r="0.5" fill="#3a32b0" opacity="0.85"/>
<circle cx="293.6" cy="363.2" r="0.5" fill="#2c2690" opacity="0.85"/>
<circle cx="302.0" cy="367.0" r="0.5" fill="#4840c4" opacity="0.85"/>
<circle cx="287.1" cy="383.9" r="0.5" fill="#2c2690" opacity="0.85"/>
<circle cx="291.2" cy="377.3" r="0.5" fill="#4840c4" opacity="0.85"/>
<circle cx="297.9" cy="385.5" r="0.5" fill="#4840c4" opacity="0.85"/>
<circle cx="273.9" cy="372.5" r="0.5" fill="#3a32b0" opacity="0.85"/>
<circle cx="305.2" cy="384.4" r="0.5" fill="#342ca0" opacity="0.85"/>
<circle cx="276.3" cy="380.5" r="0.5" fill="#2c2690" opacity="0.85"/>
<circle cx="283.7" cy="390.3" r="0.5" fill="#2c2690" opacity="0.85"/>
<circle cx="303.8" cy="367.3" r="0.5" fill="#4840c4" opacity="0.85"/>
<circle cx="270.0" cy="371.6" r="0.5" fill="#2c2690" opacity="0.85"/>
<circle cx="274.1" cy="377.7" r="0.5" fill="#3a32b0" opacity="0.85"/>
<circle cx="285.0" cy="378.9" r="0.5" fill="#3a32b0" opacity="0.85"/>
<circle cx="299.1" cy="357.5" r="0.5" fill="#342ca0" opacity="0.85"/>
<circle cx="297.0" cy="382.8" r="0.5" fill="#342ca0" opacity="0.85"/>
<circle cx="301.2" cy="370.1" r="0.5" fill="#2c2690" opacity="0.85"/>
<circle cx="269.4" cy="390.6" r="0.5" fill="#342ca0" opacity="0.85"/>
<circle cx="284.3" cy="382.5" r="0.5" fill="#3a32b0" opacity="0.85"/>
<circle cx="294.7" cy="359.5" r="0.5" fill="#4840c4" opacity="0.85"/>
<circle cx="267.1" cy="376.4" r="0.5" fill="#342ca0" opacity="0.85"/>
<circle cx="297.9" cy="358.6" r="0.5" fill="#342ca0" opacity="0.85"/>
<circle cx="292.0" cy="366.8" r="0.5" fill="#4840c4" opacity="0.85"/>
<circle cx="266.8" cy="384.8" r="0.5" fill="#3a32b0" opacity="0.85"/>
<circle cx="286.9" cy="390.1" r="0.5" fill="#342ca0" opacity="0.85"/>
<circle cx="305.1" cy="360.5" r="0.5" fill="#4840c4" opacity="0.85"/>
<circle cx="267.1" cy="361.2" r="0.5" fill="#4840c4" opacity="0.85"/>
<circle cx="296.2" cy="365.8" r="0.5" fill="#342ca0" opacity="0.85"/>
<circle cx="299.0" cy="355.1" r="0.5" fill="#2c2690" opacity="0.85"/>
<circle cx="301.5" cy="379.3" r="0.5" fill="#342ca0" opacity="0.85"/>
<circle cx="298.8" cy="387.9" r="0.5" fill="#4840c4" opacity="0.85"/>
<circle cx="287.1" cy="373.7" r="0.5" fill="#3a32b0" opacity="0.85"/>
<circle cx="300.6" cy="383.8" r="0.5" fill="#3a32b0" opacity="0.85"/>
<circle cx="296.7" cy="358.7" r="0.5" fill="#4840c4" opacity="0.85"/>
<circle cx="284.8" cy="381.8" r="0.5" fill="#3a32b0" opacity="0.85"/>
<circle cx="278.9" cy="373.5" r="0.5" fill="#342ca0" opacity="0.85"/>
<circle cx="297.1" cy="357.0" r="0.5" fill="#3a32b0" opacity="0.85"/>
<circle cx="275.8" cy="363.8" r="0.5" fill="#3a32b0" opacity="0.85"/>
<circle cx="286.1" cy="375.2" r="0.5" fill="#3a32b0" opacity="0.85"/>
<circle cx="283.6" cy="377.3" r="0.5" fill="#4840c4" opacity="0.85"/>
<circle cx="293.4" cy="370.8" r="0.5" fill="#342ca0" opacity="0.85"/>
<circle cx="286.1" cy="362.6" r="0.5" fill="#2c2690" opacity="0.85"/>
<circle cx="302.5" cy="388.5" r="0.5" fill="#4840c4" opacity="0.85"/>
<circle cx="299.3" cy="358.2" r="0.5" fill="#3a32b0" opacity="0.85"/>
<circle cx="281.5" cy="365.4" r="0.5" fill="#4840c4" opacity="0.85"/>
<circle cx="283.0" cy="361.2" r="0.5" fill="#2c2690" opacity="0.85"/>
<circle cx="297.0" cy="388.7" r="0.5" fill="#4840c4" opacity="0.85"/>
<circle cx="303.2" cy="378.5" r="0.5" fill="#2c2690" opacity="0.85"/>
<circle cx="271.7" cy="388.1" r="0.5" fill="#342ca0" opacity="0.85"/>
<circle cx="274.7" cy="390.9" r="0.5" fill="#342ca0" opacity="0.85"/>
<circle cx="301.0" cy="359.2" r="0.5" fill="#4840c4" opacity="0.85"/>
<circle cx="272.4" cy="370.0" r="0.5" fill="#342ca0" opacity="0.85"/>
<circle cx="279.4" cy="360.5" r="0.5" fill="#2c2690" opacity="0.85"/>
<circle cx="269.7" cy="367.4" r="0.5" fill="#2c2690" opacity="0.85"/>
<circle cx="287.9" cy="370.4" r="0.5" fill="#3a32b0" opacity="0.85"/>
<circle cx="281.2" cy="373.4" r="0.5" fill="#2c2690" opacity="0.85"/>
<circle cx="286.3" cy="355.3" r="0.5" fill="#4840c4" opacity="0.85"/>
<circle cx="304.5" cy="356.9" r="0.5" fill="#2c2690" opacity="0.85"/>
<circle cx="276.8" cy="389.0" r="0.5" fill="#4840c4" opacity="0.85"/>
<circle cx="276.7" cy="357.9" r="0.5" fill="#342ca0" opacity="0.85"/>
<circle cx="299.6" cy="379.8" r="0.5" fill="#2c2690" opacity="0.85"/>
<circle cx="282.1" cy="374.2" r="0.5" fill="#342ca0" opacity="0.85"/>
<circle cx="293.7" cy="356.3" r="0.5" fill="#3a32b0" opacity="0.85"/>
<circle cx="297.7" cy="360.1" r="0.5" fill="#3a32b0" opacity="0.85"/>
<circle cx="276.6" cy="353.4" r="0.5" fill="#3a32b0" opacity="0.85"/>
<circle cx="297.7" cy="356.1" r="0.5" fill="#4840c4" opacity="0.85"/>
<circle cx="268.6" cy="387.3" r="0.5" fill="#342ca0" opacity="0.85"/>
<circle cx="266.5" cy="392.6" r="0.5" fill="#342ca0" opacity="0.85"/>
<circle cx="302.7" cy="363.4" r="0.5" fill="#4840c4" opacity="0.85"/>
<circle cx="267.7" cy="381.2" r="0.5" fill="#3a32b0" opacity="0.85"/>
<circle cx="304.4" cy="363.2" r="0.5" fill="#4840c4" opacity="0.85"/>
<circle cx="274.0" cy="365.2" r="0.5" fill="#2c2690" opacity="0.85"/>
<circle cx="287.0" cy="361.0" r="0.5" fill="#342ca0" opacity="0.85"/>
<circle cx="285.8" cy="359.8" r="0.5" fill="#2c2690" opacity="0.85"/>
<circle cx="297.8" cy="392.6" r="0.5" fill="#3a32b0" opacity="0.85"/>
<circle cx="266.6" cy="382.1" r="0.5" fill="#4840c4" opacity="0.85"/>
<circle cx="286.4" cy="362.6" r="0.5" fill="#342ca0" opacity="0.85"/>
<circle cx="270.2" cy="385.5" r="0.5" fill="#342ca0" opacity="0.85"/>
<circle cx="292.0" cy="374.6" r="0.5" fill="#342ca0" opacity="0.85"/>
<circle cx="304.4" cy="365.0" r="0.5" fill="#4840c4" opacity="0.85"/>
<circle cx="304.9" cy="366.4" r="0.5" fill="#4840c4" opacity="0.85"/>
<circle cx="282.0" cy="366.6" r="0.5" fill="#3a32b0" opacity="0.85"/>
<circle cx="299.1" cy="353.3" r="0.5" fill="#2c2690" opacity="0.85"/>
<circle cx="283.1" cy="354.9" r="0.5" fill="#342ca0" opacity="0.85"/>
<circle cx="300.5" cy="379.6" r="0.5" fill="#2c2690" opacity="0.85"/>
<circle cx="289.7" cy="380.5" r="0.5" fill="#3a32b0" opacity="0.85"/>
<circle cx="284.2" cy="359.0" r="0.5" fill="#342ca0" opacity="0.85"/>
<circle cx="266.1" cy="367.3" r="0.5" fill="#2c2690" opacity="0.85"/>
<circle cx="304.5" cy="374.6" r="0.5" fill="#4840c4" opacity="0.85"/>
<circle cx="267.4" cy="388.1" r="0.5" fill="#4840c4" opacity="0.85"/>
<circle cx="280.1" cy="352.7" r="0.5" fill="#342ca0" opacity="0.85"/>
<circle cx="269.3" cy="363.9" r="0.5" fill="#4840c4" opacity="0.85"/>
<circle cx="275.8" cy="383.8" r="0.5" fill="#3a32b0" opacity="0.85"/>
<circle cx="276.5" cy="356.3" r="0.5" fill="#342ca0" opacity="0.85"/>
<circle cx="289.2" cy="368.5" r="0.5" fill="#2c2690" opacity="0.85"/>
<rect x="313.40" y="351.70" width="41.60" height="42.10" fill="#0d0606"/>
<circle cx="326.4" cy="362.0" r="0.55" fill="#1e0b0b" opacity="0.9"/>
<circle cx="340.4" cy="381.4" r="0.55" fill="#1e0b0b" opacity="0.9"/>
<circle cx="344.7" cy="381.6" r="0.55" fill="#1e0b0b" opacity="0.9"/>
<circle cx="320.3" cy="381.7" r="0.55" fill="#1e0b0b" opacity="0.9"/>
<circle cx="316.1" cy="386.2" r="0.55" fill="#1e0b0b" opacity="0.9"/>
<circle cx="343.5" cy="385.3" r="0.55" fill="#1e0b0b" opacity="0.9"/>
<circle cx="350.4" cy="382.9" r="0.55" fill="#1e0b0b" opacity="0.9"/>
<circle cx="347.1" cy="376.1" r="0.55" fill="#1e0b0b" opacity="0.9"/>
<circle cx="317.8" cy="354.4" r="0.55" fill="#1e0b0b" opacity="0.9"/>
<circle cx="352.4" cy="367.8" r="0.55" fill="#1e0b0b" opacity="0.9"/>
<rect x="363.90" y="351.70" width="41.60" height="42.10" fill="#08061c"/>
<circle cx="387.0" cy="377.9" r="0.5" fill="#4840c4" opacity="0.85"/>
<circle cx="384.3" cy="352.8" r="0.5" fill="#3a32b0" opacity="0.85"/>
<circle cx="394.5" cy="372.9" r="0.5" fill="#3a32b0" opacity="0.85"/>
<circle cx="391.0" cy="355.3" r="0.5" fill="#342ca0" opacity="0.85"/>
<circle cx="374.9" cy="355.7" r="0.5" fill="#2c2690" opacity="0.85"/>
<circle cx="374.2" cy="383.0" r="0.5" fill="#4840c4" opacity="0.85"/>
<circle cx="394.2" cy="391.8" r="0.5" fill="#342ca0" opacity="0.85"/>
<circle cx="398.4" cy="355.8" r="0.5" fill="#2c2690" opacity="0.85"/>
<circle cx="395.3" cy="377.4" r="0.5" fill="#4840c4" opacity="0.85"/>
<circle cx="368.0" cy="358.6" r="0.5" fill="#2c2690" opacity="0.85"/>
<circle cx="390.7" cy="380.5" r="0.5" fill="#4840c4" opacity="0.85"/>
<circle cx="365.4" cy="355.1" r="0.5" fill="#2c2690" opacity="0.85"/>
<circle cx="403.4" cy="356.7" r="0.5" fill="#4840c4" opacity="0.85"/>
<circle cx="391.7" cy="364.4" r="0.5" fill="#2c2690" opacity="0.85"/>
<circle cx="383.3" cy="371.4" r="0.5" fill="#3a32b0" opacity="0.85"/>
<circle cx="404.2" cy="374.7" r="0.5" fill="#2c2690" opacity="0.85"/>
<circle cx="403.6" cy="390.2" r="0.5" fill="#3a32b0" opacity="0.85"/>
<circle cx="376.4" cy="355.8" r="0.5" fill="#342ca0" opacity="0.85"/>
<circle cx="404.3" cy="368.2" r="0.5" fill="#4840c4" opacity="0.85"/>
<circle cx="367.9" cy="356.3" r="0.5" fill="#2c2690" opacity="0.85"/>
<circle cx="402.6" cy="358.0" r="0.5" fill="#2c2690" opacity="0.85"/>
<circle cx="400.0" cy="380.9" r="0.5" fill="#4840c4" opacity="0.85"/>
<circle cx="384.6" cy="387.8" r="0.5" fill="#342ca0" opacity="0.85"/>
<circle cx="365.9" cy="352.8" r="0.5" fill="#342ca0" opacity="0.85"/>
<circle cx="391.9" cy="369.0" r="0.5" fill="#4840c4" opacity="0.85"/>
<circle cx="381.4" cy="367.8" r="0.5" fill="#3a32b0" opacity="0.85"/>
<circle cx="398.2" cy="352.8" r="0.5" fill="#2c2690" opacity="0.85"/>
<circle cx="398.1" cy="357.5" r="0.5" fill="#4840c4" opacity="0.85"/>
<circle cx="393.1" cy="388.9" r="0.5" fill="#2c2690" opacity="0.85"/>
<circle cx="374.9" cy="355.3" r="0.5" fill="#342ca0" opacity="0.85"/>
<circle cx="404.5" cy="376.3" r="0.5" fill="#2c2690" opacity="0.85"/>
<circle cx="401.5" cy="383.0" r="0.5" fill="#3a32b0" opacity="0.85"/>
<circle cx="376.0" cy="354.8" r="0.5" fill="#2c2690" opacity="0.85"/>
<circle cx="390.0" cy="358.7" r="0.5" fill="#2c2690" opacity="0.85"/>
<circle cx="382.2" cy="365.4" r="0.5" fill="#2c2690" opacity="0.85"/>
<circle cx="396.0" cy="369.9" r="0.5" fill="#3a32b0" opacity="0.85"/>
<circle cx="397.1" cy="378.0" r="0.5" fill="#4840c4" opacity="0.85"/>
<circle cx="393.4" cy="354.7" r="0.5" fill="#342ca0" opacity="0.85"/>
<circle cx="382.8" cy="382.9" r="0.5" fill="#2c2690" opacity="0.85"/>
<circle cx="384.1" cy="389.3" r="0.5" fill="#4840c4" opacity="0.85"/>
<circle cx="371.7" cy="369.3" r="0.5" fill="#2c2690" opacity="0.85"/>
<circle cx="376.7" cy="382.3" r="0.5" fill="#2c2690" opacity="0.85"/>
<circle cx="381.0" cy="362.3" r="0.5" fill="#342ca0" opacity="0.85"/>
<circle cx="387.0" cy="368.5" r="0.5" fill="#4840c4" opacity="0.85"/>
<circle cx="390.4" cy="355.7" r="0.5" fill="#342ca0" opacity="0.85"/>
<circle cx="386.7" cy="370.9" r="0.5" fill="#2c2690" opacity="0.85"/>
<circle cx="404.4" cy="370.7" r="0.5" fill="#4840c4" opacity="0.85"/>
<circle cx="386.6" cy="362.5" r="0.5" fill="#4840c4" opacity="0.85"/>
<circle cx="378.4" cy="356.4" r="0.5" fill="#4840c4" opacity="0.85"/>
<circle cx="379.5" cy="385.2" r="0.5" fill="#4840c4" opacity="0.85"/>
<circle cx="400.0" cy="382.8" r="0.5" fill="#342ca0" opacity="0.85"/>
<circle cx="380.1" cy="382.6" r="0.5" fill="#4840c4" opacity="0.85"/>
<circle cx="379.8" cy="366.3" r="0.5" fill="#3a32b0" opacity="0.85"/>
<circle cx="384.6" cy="375.7" r="0.5" fill="#2c2690" opacity="0.85"/>
<circle cx="369.9" cy="372.9" r="0.5" fill="#4840c4" opacity="0.85"/>
<circle cx="368.6" cy="388.7" r="0.5" fill="#342ca0" opacity="0.85"/>
<circle cx="380.7" cy="370.6" r="0.5" fill="#2c2690" opacity="0.85"/>
<circle cx="398.5" cy="387.7" r="0.5" fill="#3a32b0" opacity="0.85"/>
<circle cx="369.9" cy="369.8" r="0.5" fill="#342ca0" opacity="0.85"/>
<circle cx="403.2" cy="372.3" r="0.5" fill="#3a32b0" opacity="0.85"/>
<circle cx="380.4" cy="389.9" r="0.5" fill="#342ca0" opacity="0.85"/>
<circle cx="403.4" cy="362.7" r="0.5" fill="#3a32b0" opacity="0.85"/>
<circle cx="373.8" cy="358.8" r="0.5" fill="#3a32b0" opacity="0.85"/>
<circle cx="402.2" cy="381.6" r="0.5" fill="#342ca0" opacity="0.85"/>
<circle cx="368.3" cy="383.9" r="0.5" fill="#3a32b0" opacity="0.85"/>
<circle cx="395.9" cy="362.0" r="0.5" fill="#3a32b0" opacity="0.85"/>
<circle cx="390.5" cy="364.9" r="0.5" fill="#4840c4" opacity="0.85"/>
<circle cx="389.7" cy="373.9" r="0.5" fill="#342ca0" opacity="0.85"/>
<circle cx="392.6" cy="357.2" r="0.5" fill="#3a32b0" opacity="0.85"/>
<circle cx="376.8" cy="390.5" r="0.5" fill="#4840c4" opacity="0.85"/>
<circle cx="380.3" cy="361.7" r="0.5" fill="#3a32b0" opacity="0.85"/>
<circle cx="365.3" cy="364.8" r="0.5" fill="#342ca0" opacity="0.85"/>
<circle cx="375.9" cy="365.4" r="0.5" fill="#4840c4" opacity="0.85"/>
<circle cx="383.7" cy="362.1" r="0.5" fill="#4840c4" opacity="0.85"/>
<circle cx="366.1" cy="369.2" r="0.5" fill="#2c2690" opacity="0.85"/>
<circle cx="367.1" cy="360.5" r="0.5" fill="#342ca0" opacity="0.85"/>
<circle cx="368.1" cy="361.8" r="0.5" fill="#342ca0" opacity="0.85"/>
<circle cx="401.5" cy="361.8" r="0.5" fill="#3a32b0" opacity="0.85"/>
<circle cx="392.5" cy="381.5" r="0.5" fill="#2c2690" opacity="0.85"/>
<circle cx="391.9" cy="360.6" r="0.5" fill="#2c2690" opacity="0.85"/>
<circle cx="394.2" cy="372.9" r="0.5" fill="#4840c4" opacity="0.85"/>
<circle cx="384.5" cy="360.7" r="0.5" fill="#4840c4" opacity="0.85"/>
<circle cx="374.0" cy="361.6" r="0.5" fill="#2c2690" opacity="0.85"/>
<circle cx="369.2" cy="377.7" r="0.5" fill="#4840c4" opacity="0.85"/>
<circle cx="400.4" cy="372.2" r="0.5" fill="#3a32b0" opacity="0.85"/>
<circle cx="402.5" cy="358.6" r="0.5" fill="#342ca0" opacity="0.85"/>
<circle cx="367.1" cy="353.6" r="0.5" fill="#4840c4" opacity="0.85"/>
<circle cx="381.3" cy="381.2" r="0.5" fill="#4840c4" opacity="0.85"/>
<circle cx="380.5" cy="388.7" r="0.5" fill="#2c2690" opacity="0.85"/>
<circle cx="393.9" cy="392.7" r="0.5" fill="#4840c4" opacity="0.85"/>
<circle cx="377.9" cy="360.1" r="0.5" fill="#342ca0" opacity="0.85"/>
<circle cx="366.2" cy="379.3" r="0.5" fill="#342ca0" opacity="0.85"/>
<circle cx="398.1" cy="392.2" r="0.5" fill="#342ca0" opacity="0.85"/>
<circle cx="371.6" cy="352.8" r="0.5" fill="#2c2690" opacity="0.85"/>
<circle cx="368.1" cy="369.5" r="0.5" fill="#3a32b0" opacity="0.85"/>
<circle cx="387.1" cy="383.1" r="0.5" fill="#342ca0" opacity="0.85"/>
<circle cx="379.0" cy="385.6" r="0.5" fill="#342ca0" opacity="0.85"/>
<circle cx="368.4" cy="381.0" r="0.5" fill="#4840c4" opacity="0.85"/>
<circle cx="379.7" cy="389.6" r="0.5" fill="#4840c4" opacity="0.85"/>
<circle cx="377.7" cy="382.3" r="0.5" fill="#342ca0" opacity="0.85"/>
<circle cx="366.1" cy="369.2" r="0.5" fill="#342ca0" opacity="0.85"/>
<circle cx="366.5" cy="354.1" r="0.5" fill="#3a32b0" opacity="0.85"/>
<circle cx="396.7" cy="355.2" r="0.5" fill="#4840c4" opacity="0.85"/>
<circle cx="394.5" cy="388.7" r="0.5" fill="#2c2690" opacity="0.85"/>
<circle cx="379.3" cy="366.1" r="0.5" fill="#3a32b0" opacity="0.85"/>
<circle cx="375.3" cy="381.4" r="0.5" fill="#2c2690" opacity="0.85"/>
<circle cx="401.5" cy="364.6" r="0.5" fill="#3a32b0" opacity="0.85"/>
<circle cx="365.9" cy="362.1" r="0.5" fill="#342ca0" opacity="0.85"/>
<circle cx="393.2" cy="371.4" r="0.5" fill="#342ca0" opacity="0.85"/>
<circle cx="396.2" cy="389.3" r="0.5" fill="#342ca0" opacity="0.85"/>
<circle cx="370.2" cy="372.6" r="0.5" fill="#3a32b0" opacity="0.85"/>
<circle cx="396.7" cy="382.3" r="0.5" fill="#4840c4" opacity="0.85"/>
<circle cx="388.9" cy="365.8" r="0.5" fill="#2c2690" opacity="0.85"/>
<circle cx="383.1" cy="384.1" r="0.5" fill="#3a32b0" opacity="0.85"/>
<circle cx="385.2" cy="368.4" r="0.5" fill="#4840c4" opacity="0.85"/>
<circle cx="374.7" cy="355.3" r="0.5" fill="#3a32b0" opacity="0.85"/>
<circle cx="384.0" cy="374.5" r="0.5" fill="#4840c4" opacity="0.85"/>
<circle cx="403.7" cy="388.1" r="0.5" fill="#3a32b0" opacity="0.85"/>
<circle cx="375.4" cy="356.1" r="0.5" fill="#3a32b0" opacity="0.85"/>
<circle cx="381.6" cy="392.3" r="0.5" fill="#342ca0" opacity="0.85"/>
<circle cx="371.8" cy="358.0" r="0.5" fill="#342ca0" opacity="0.85"/>
<circle cx="389.5" cy="379.7" r="0.5" fill="#3a32b0" opacity="0.85"/>
<circle cx="395.8" cy="364.5" r="0.5" fill="#2c2690" opacity="0.85"/>
<circle cx="387.3" cy="367.7" r="0.5" fill="#2c2690" opacity="0.85"/>
<circle cx="372.8" cy="362.6" r="0.5" fill="#4840c4" opacity="0.85"/>
<circle cx="374.2" cy="364.0" r="0.5" fill="#4840c4" opacity="0.85"/>
<circle cx="377.8" cy="368.6" r="0.5" fill="#4840c4" opacity="0.85"/>
<circle cx="385.0" cy="362.0" r="0.5" fill="#3a32b0" opacity="0.85"/>
<circle cx="390.8" cy="392.4" r="0.5" fill="#3a32b0" opacity="0.85"/>
<circle cx="365.1" cy="388.1" r="0.5" fill="#4840c4" opacity="0.85"/>
<circle cx="398.2" cy="389.4" r="0.5" fill="#3a32b0" opacity="0.85"/>
<circle cx="399.6" cy="362.0" r="0.5" fill="#3a32b0" opacity="0.85"/>
<circle cx="372.4" cy="391.7" r="0.5" fill="#4840c4" opacity="0.85"/>
<circle cx="401.7" cy="367.6" r="0.5" fill="#4840c4" opacity="0.85"/>
<circle cx="382.7" cy="363.1" r="0.5" fill="#3a32b0" opacity="0.85"/>
<circle cx="369.1" cy="376.6" r="0.5" fill="#2c2690" opacity="0.85"/>
<circle cx="373.5" cy="367.5" r="0.5" fill="#4840c4" opacity="0.85"/>
<circle cx="366.6" cy="392.8" r="0.5" fill="#3a32b0" opacity="0.85"/>
<circle cx="388.6" cy="378.8" r="0.5" fill="#4840c4" opacity="0.85"/>
<circle cx="397.2" cy="385.5" r="0.5" fill="#342ca0" opacity="0.85"/>
<circle cx="391.8" cy="360.1" r="0.5" fill="#2c2690" opacity="0.85"/>
<circle cx="368.0" cy="354.0" r="0.5" fill="#342ca0" opacity="0.85"/>
<circle cx="386.6" cy="355.2" r="0.5" fill="#3a32b0" opacity="0.85"/>
<circle cx="396.4" cy="379.3" r="0.5" fill="#4840c4" opacity="0.85"/>
<circle cx="390.2" cy="356.4" r="0.5" fill="#4840c4" opacity="0.85"/>
<circle cx="380.7" cy="363.6" r="0.5" fill="#2c2690" opacity="0.85"/>
<circle cx="391.3" cy="369.5" r="0.5" fill="#3a32b0" opacity="0.85"/>
<circle cx="377.3" cy="375.4" r="0.5" fill="#2c2690" opacity="0.85"/>
<circle cx="381.3" cy="353.4" r="0.5" fill="#2c2690" opacity="0.85"/>
<circle cx="390.4" cy="368.4" r="0.5" fill="#342ca0" opacity="0.85"/>
<rect x="265.00" y="398.80" width="41.60" height="42.10" fill="#060515"/>
<circle cx="274.1" cy="400.0" r="0.5" fill="#4840c4" opacity="0.85"/>
<circle cx="282.8" cy="432.7" r="0.5" fill="#342ca0" opacity="0.85"/>
<circle cx="288.9" cy="414.4" r="0.5" fill="#4840c4" opacity="0.85"/>
<circle cx="271.1" cy="401.9" r="0.5" fill="#4840c4" opacity="0.85"/>
<circle cx="291.4" cy="436.3" r="0.5" fill="#3a32b0" opacity="0.85"/>
<circle cx="288.7" cy="437.0" r="0.5" fill="#4840c4" opacity="0.85"/>
<circle cx="271.8" cy="411.2" r="0.5" fill="#4840c4" opacity="0.85"/>
<circle cx="302.6" cy="404.2" r="0.5" fill="#342ca0" opacity="0.85"/>
<circle cx="295.8" cy="431.6" r="0.5" fill="#4840c4" opacity="0.85"/>
<circle cx="277.9" cy="433.4" r="0.5" fill="#3a32b0" opacity="0.85"/>
<circle cx="304.6" cy="419.2" r="0.5" fill="#3a32b0" opacity="0.85"/>
<circle cx="290.1" cy="425.3" r="0.5" fill="#3a32b0" opacity="0.85"/>
<circle cx="301.8" cy="424.7" r="0.5" fill="#4840c4" opacity="0.85"/>
<circle cx="291.4" cy="434.1" r="0.5" fill="#342ca0" opacity="0.85"/>
<circle cx="290.3" cy="407.7" r="0.5" fill="#342ca0" opacity="0.85"/>
<circle cx="273.2" cy="408.5" r="0.5" fill="#342ca0" opacity="0.85"/>
<circle cx="303.2" cy="406.1" r="0.5" fill="#2c2690" opacity="0.85"/>
<circle cx="270.9" cy="409.7" r="0.5" fill="#4840c4" opacity="0.85"/>
<circle cx="267.6" cy="422.3" r="0.5" fill="#3a32b0" opacity="0.85"/>
<circle cx="292.4" cy="412.8" r="0.5" fill="#342ca0" opacity="0.85"/>
<circle cx="289.7" cy="421.9" r="0.5" fill="#2c2690" opacity="0.85"/>
<circle cx="291.7" cy="412.2" r="0.5" fill="#4840c4" opacity="0.85"/>
<circle cx="282.9" cy="426.2" r="0.5" fill="#342ca0" opacity="0.85"/>
<circle cx="285.9" cy="407.0" r="0.5" fill="#3a32b0" opacity="0.85"/>
<circle cx="290.5" cy="419.4" r="0.5" fill="#4840c4" opacity="0.85"/>
<circle cx="283.7" cy="424.6" r="0.5" fill="#342ca0" opacity="0.85"/>
<circle cx="299.1" cy="432.3" r="0.5" fill="#342ca0" opacity="0.85"/>
<circle cx="270.2" cy="405.0" r="0.5" fill="#342ca0" opacity="0.85"/>
<circle cx="280.5" cy="432.0" r="0.5" fill="#3a32b0" opacity="0.85"/>
<circle cx="267.6" cy="405.0" r="0.5" fill="#2c2690" opacity="0.85"/>
<circle cx="296.8" cy="420.3" r="0.5" fill="#3a32b0" opacity="0.85"/>
<circle cx="295.8" cy="435.7" r="0.5" fill="#4840c4" opacity="0.85"/>
<circle cx="267.0" cy="402.5" r="0.5" fill="#3a32b0" opacity="0.85"/>
<circle cx="273.7" cy="439.2" r="0.5" fill="#342ca0" opacity="0.85"/>
<circle cx="277.4" cy="432.3" r="0.5" fill="#4840c4" opacity="0.85"/>
<circle cx="293.2" cy="428.7" r="0.5" fill="#4840c4" opacity="0.85"/>
<circle cx="268.6" cy="413.9" r="0.5" fill="#2c2690" opacity="0.85"/>
<circle cx="272.3" cy="435.8" r="0.5" fill="#2c2690" opacity="0.85"/>
<circle cx="301.8" cy="418.1" r="0.5" fill="#2c2690" opacity="0.85"/>
<circle cx="285.9" cy="436.7" r="0.5" fill="#4840c4" opacity="0.85"/>
<circle cx="289.4" cy="424.5" r="0.5" fill="#4840c4" opacity="0.85"/>
<circle cx="278.6" cy="401.3" r="0.5" fill="#4840c4" opacity="0.85"/>
<circle cx="282.0" cy="425.3" r="0.5" fill="#2c2690" opacity="0.85"/>
<circle cx="292.9" cy="435.7" r="0.5" fill="#4840c4" opacity="0.85"/>
<circle cx="297.4" cy="410.4" r="0.5" fill="#3a32b0" opacity="0.85"/>
<circle cx="291.2" cy="414.2" r="0.5" fill="#342ca0" opacity="0.85"/>
<circle cx="288.0" cy="423.1" r="0.5" fill="#3a32b0" opacity="0.85"/>
<circle cx="276.0" cy="421.3" r="0.5" fill="#342ca0" opacity="0.85"/>
<circle cx="295.2" cy="414.7" r="0.5" fill="#342ca0" opacity="0.85"/>
<circle cx="305.2" cy="423.0" r="0.5" fill="#2c2690" opacity="0.85"/>
<circle cx="279.1" cy="403.1" r="0.5" fill="#4840c4" opacity="0.85"/>
<circle cx="273.0" cy="429.6" r="0.5" fill="#3a32b0" opacity="0.85"/>
<circle cx="277.7" cy="420.5" r="0.5" fill="#2c2690" opacity="0.85"/>
<circle cx="291.3" cy="439.3" r="0.5" fill="#2c2690" opacity="0.85"/>
<circle cx="295.0" cy="429.8" r="0.5" fill="#4840c4" opacity="0.85"/>
<rect x="313.40" y="398.80" width="41.60" height="42.10" fill="#0a0505"/>
<circle cx="320.3" cy="424.5" r="0.55" fill="#1a0909" opacity="0.9"/>
<circle cx="330.9" cy="414.4" r="0.55" fill="#1a0909" opacity="0.9"/>
<circle cx="319.6" cy="408.9" r="0.55" fill="#1a0909" opacity="0.9"/>
<circle cx="315.3" cy="399.9" r="0.55" fill="#1a0909" opacity="0.9"/>
<circle cx="326.4" cy="420.8" r="0.55" fill="#1a0909" opacity="0.9"/>
<circle cx="330.8" cy="411.9" r="0.55" fill="#1a0909" opacity="0.9"/>
<rect x="363.90" y="398.80" width="41.60" height="42.10" fill="#070516"/>
<circle cx="373.0" cy="424.8" r="0.5" fill="#342ca0" opacity="0.85"/>
<circle cx="371.2" cy="400.4" r="0.5" fill="#4840c4" opacity="0.85"/>
<circle cx="392.9" cy="417.9" r="0.5" fill="#3a32b0" opacity="0.85"/>
<circle cx="390.2" cy="434.7" r="0.5" fill="#2c2690" opacity="0.85"/>
<circle cx="380.8" cy="410.4" r="0.5" fill="#3a32b0" opacity="0.85"/>
<circle cx="367.1" cy="432.7" r="0.5" fill="#2c2690" opacity="0.85"/>
<circle cx="388.5" cy="423.0" r="0.5" fill="#342ca0" opacity="0.85"/>
<circle cx="374.7" cy="436.0" r="0.5" fill="#3a32b0" opacity="0.85"/>
<circle cx="367.3" cy="400.8" r="0.5" fill="#4840c4" opacity="0.85"/>
<circle cx="374.3" cy="402.1" r="0.5" fill="#3a32b0" opacity="0.85"/>
<circle cx="365.4" cy="421.9" r="0.5" fill="#4840c4" opacity="0.85"/>
<circle cx="370.5" cy="407.8" r="0.5" fill="#342ca0" opacity="0.85"/>
<circle cx="397.1" cy="406.8" r="0.5" fill="#2c2690" opacity="0.85"/>
<circle cx="367.4" cy="424.9" r="0.5" fill="#342ca0" opacity="0.85"/>
<circle cx="393.2" cy="400.1" r="0.5" fill="#342ca0" opacity="0.85"/>
<circle cx="394.4" cy="418.5" r="0.5" fill="#342ca0" opacity="0.85"/>
<circle cx="371.8" cy="439.8" r="0.5" fill="#2c2690" opacity="0.85"/>
<circle cx="374.1" cy="401.4" r="0.5" fill="#2c2690" opacity="0.85"/>
<circle cx="400.2" cy="436.9" r="0.5" fill="#2c2690" opacity="0.85"/>
<circle cx="393.1" cy="410.5" r="0.5" fill="#342ca0" opacity="0.85"/>
<circle cx="392.1" cy="436.6" r="0.5" fill="#2c2690" opacity="0.85"/>
<circle cx="376.6" cy="437.0" r="0.5" fill="#4840c4" opacity="0.85"/>
<circle cx="368.3" cy="420.1" r="0.5" fill="#4840c4" opacity="0.85"/>
<circle cx="375.2" cy="409.3" r="0.5" fill="#4840c4" opacity="0.85"/>
<circle cx="402.3" cy="429.7" r="0.5" fill="#2c2690" opacity="0.85"/>
<circle cx="372.5" cy="415.4" r="0.5" fill="#4840c4" opacity="0.85"/>
<circle cx="379.9" cy="434.0" r="0.5" fill="#342ca0" opacity="0.85"/>
<circle cx="383.6" cy="421.1" r="0.5" fill="#3a32b0" opacity="0.85"/>
<circle cx="398.9" cy="417.3" r="0.5" fill="#4840c4" opacity="0.85"/>
<circle cx="387.5" cy="412.1" r="0.5" fill="#4840c4" opacity="0.85"/>
<circle cx="380.4" cy="423.3" r="0.5" fill="#4840c4" opacity="0.85"/>
<circle cx="370.6" cy="400.9" r="0.5" fill="#3a32b0" opacity="0.85"/>
<circle cx="389.5" cy="406.3" r="0.5" fill="#4840c4" opacity="0.85"/>
<circle cx="392.6" cy="401.0" r="0.5" fill="#4840c4" opacity="0.85"/>
<circle cx="392.3" cy="425.2" r="0.5" fill="#3a32b0" opacity="0.85"/>
<circle cx="394.1" cy="402.4" r="0.5" fill="#2c2690" opacity="0.85"/>
<circle cx="372.8" cy="438.1" r="0.5" fill="#3a32b0" opacity="0.85"/>
<circle cx="399.7" cy="430.1" r="0.5" fill="#342ca0" opacity="0.85"/>
<circle cx="369.1" cy="408.0" r="0.5" fill="#3a32b0" opacity="0.85"/>
<circle cx="366.2" cy="437.9" r="0.5" fill="#3a32b0" opacity="0.85"/>
<circle cx="397.6" cy="425.1" r="0.5" fill="#2c2690" opacity="0.85"/>
<circle cx="383.8" cy="405.1" r="0.5" fill="#4840c4" opacity="0.85"/>
<circle cx="376.6" cy="413.3" r="0.5" fill="#2c2690" opacity="0.85"/>
<circle cx="365.7" cy="410.1" r="0.5" fill="#2c2690" opacity="0.85"/>
<circle cx="366.8" cy="430.3" r="0.5" fill="#2c2690" opacity="0.85"/>
<circle cx="395.4" cy="423.9" r="0.5" fill="#342ca0" opacity="0.85"/>
<circle cx="398.6" cy="424.6" r="0.5" fill="#3a32b0" opacity="0.85"/>
<circle cx="396.1" cy="401.1" r="0.5" fill="#3a32b0" opacity="0.85"/>
<circle cx="378.6" cy="428.1" r="0.5" fill="#4840c4" opacity="0.85"/>
<circle cx="393.2" cy="433.0" r="0.5" fill="#2c2690" opacity="0.85"/>
<circle cx="371.6" cy="399.9" r="0.5" fill="#4840c4" opacity="0.85"/>
<circle cx="376.3" cy="429.9" r="0.5" fill="#3a32b0" opacity="0.85"/>
<circle cx="365.1" cy="419.5" r="0.5" fill="#342ca0" opacity="0.85"/>
<circle cx="392.4" cy="432.9" r="0.5" fill="#342ca0" opacity="0.85"/>
<circle cx="388.4" cy="438.2" r="0.5" fill="#2c2690" opacity="0.85"/>
<rect x="265.00" y="446.00" width="41.60" height="42.10" fill="#08071e"/>
<circle cx="288.9" cy="453.4" r="0.5" fill="#4840c4" opacity="0.85"/>
<circle cx="303.2" cy="456.3" r="0.5" fill="#4840c4" opacity="0.85"/>
<circle cx="270.4" cy="472.5" r="0.5" fill="#3a32b0" opacity="0.85"/>
<circle cx="285.4" cy="486.7" r="0.5" fill="#3a32b0" opacity="0.85"/>
<circle cx="290.9" cy="461.3" r="0.5" fill="#342ca0" opacity="0.85"/>
<circle cx="302.8" cy="482.8" r="0.5" fill="#3a32b0" opacity="0.85"/>
<circle cx="282.7" cy="472.9" r="0.5" fill="#2c2690" opacity="0.85"/>
<circle cx="274.2" cy="457.6" r="0.5" fill="#4840c4" opacity="0.85"/>
<circle cx="281.0" cy="482.4" r="0.5" fill="#4840c4" opacity="0.85"/>
<circle cx="303.4" cy="452.1" r="0.5" fill="#3a32b0" opacity="0.85"/>
<circle cx="279.8" cy="460.1" r="0.5" fill="#4840c4" opacity="0.85"/>
<circle cx="300.4" cy="465.1" r="0.5" fill="#2c2690" opacity="0.85"/>
<circle cx="272.7" cy="464.6" r="0.5" fill="#2c2690" opacity="0.85"/>
<circle cx="288.9" cy="452.1" r="0.5" fill="#342ca0" opacity="0.85"/>
<circle cx="291.5" cy="474.9" r="0.5" fill="#4840c4" opacity="0.85"/>
<circle cx="276.6" cy="477.3" r="0.5" fill="#4840c4" opacity="0.85"/>
<circle cx="294.6" cy="486.1" r="0.5" fill="#2c2690" opacity="0.85"/>
<circle cx="289.9" cy="461.0" r="0.5" fill="#4840c4" opacity="0.85"/>
<circle cx="279.0" cy="454.6" r="0.5" fill="#3a32b0" opacity="0.85"/>
<circle cx="272.5" cy="473.4" r="0.5" fill="#4840c4" opacity="0.85"/>
<circle cx="281.2" cy="486.5" r="0.5" fill="#2c2690" opacity="0.85"/>
<circle cx="295.0" cy="464.4" r="0.5" fill="#4840c4" opacity="0.85"/>
<circle cx="270.3" cy="483.5" r="0.5" fill="#2c2690" opacity="0.85"/>
<circle cx="274.2" cy="462.6" r="0.5" fill="#3a32b0" opacity="0.85"/>
<circle cx="266.5" cy="481.3" r="0.5" fill="#342ca0" opacity="0.85"/>
<circle cx="293.5" cy="467.1" r="0.5" fill="#2c2690" opacity="0.85"/>
<circle cx="284.3" cy="452.7" r="0.5" fill="#342ca0" opacity="0.85"/>
<circle cx="266.2" cy="456.7" r="0.5" fill="#342ca0" opacity="0.85"/>
<circle cx="293.8" cy="470.6" r="0.5" fill="#342ca0" opacity="0.85"/>
<circle cx="299.5" cy="473.8" r="0.5" fill="#4840c4" opacity="0.85"/>
<circle cx="292.9" cy="472.7" r="0.5" fill="#342ca0" opacity="0.85"/>
<circle cx="283.1" cy="457.4" r="0.5" fill="#3a32b0" opacity="0.85"/>
<circle cx="301.4" cy="456.7" r="0.5" fill="#342ca0" opacity="0.85"/>
<circle cx="294.2" cy="472.2" r="0.5" fill="#2c2690" opacity="0.85"/>
<circle cx="299.6" cy="466.4" r="0.5" fill="#3a32b0" opacity="0.85"/>
<circle cx="290.6" cy="463.4" r="0.5" fill="#4840c4" opacity="0.85"/>
<circle cx="301.4" cy="460.2" r="0.5" fill="#3a32b0" opacity="0.85"/>
<circle cx="281.4" cy="466.6" r="0.5" fill="#3a32b0" opacity="0.85"/>
<circle cx="267.5" cy="468.8" r="0.5" fill="#4840c4" opacity="0.85"/>
<circle cx="294.4" cy="485.1" r="0.5" fill="#4840c4" opacity="0.85"/>
<circle cx="286.6" cy="451.1" r="0.5" fill="#342ca0" opacity="0.85"/>
<circle cx="287.4" cy="475.8" r="0.5" fill="#3a32b0" opacity="0.85"/>
<circle cx="291.3" cy="480.2" r="0.5" fill="#2c2690" opacity="0.85"/>
<circle cx="282.2" cy="485.0" r="0.5" fill="#4840c4" opacity="0.85"/>
<circle cx="305.2" cy="454.4" r="0.5" fill="#3a32b0" opacity="0.85"/>
<circle cx="294.9" cy="471.6" r="0.5" fill="#3a32b0" opacity="0.85"/>
<circle cx="276.0" cy="462.3" r="0.5" fill="#3a32b0" opacity="0.85"/>
<circle cx="266.5" cy="463.8" r="0.5" fill="#342ca0" opacity="0.85"/>
<circle cx="290.9" cy="474.1" r="0.5" fill="#2c2690" opacity="0.85"/>
<circle cx="270.3" cy="459.2" r="0.5" fill="#342ca0" opacity="0.85"/>
<circle cx="303.2" cy="468.1" r="0.5" fill="#4840c4" opacity="0.85"/>
<circle cx="305.4" cy="485.5" r="0.5" fill="#342ca0" opacity="0.85"/>
<circle cx="274.4" cy="452.2" r="0.5" fill="#3a32b0" opacity="0.85"/>
<circle cx="298.1" cy="472.4" r="0.5" fill="#342ca0" opacity="0.85"/>
<circle cx="291.4" cy="475.9" r="0.5" fill="#4840c4" opacity="0.85"/>
<circle cx="280.0" cy="472.6" r="0.5" fill="#342ca0" opacity="0.85"/>
<circle cx="284.5" cy="458.8" r="0.5" fill="#4840c4" opacity="0.85"/>
<circle cx="296.9" cy="465.8" r="0.5" fill="#4840c4" opacity="0.85"/>
<circle cx="276.6" cy="462.1" r="0.5" fill="#2c2690" opacity="0.85"/>
<circle cx="304.9" cy="474.2" r="0.5" fill="#342ca0" opacity="0.85"/>
<circle cx="266.1" cy="475.9" r="0.5" fill="#2c2690" opacity="0.85"/>
<circle cx="280.2" cy="473.2" r="0.5" fill="#2c2690" opacity="0.85"/>
<circle cx="285.0" cy="464.2" r="0.5" fill="#3a32b0" opacity="0.85"/>
<circle cx="292.1" cy="461.5" r="0.5" fill="#2c2690" opacity="0.85"/>
<circle cx="299.8" cy="449.3" r="0.5" fill="#2c2690" opacity="0.85"/>
<circle cx="297.0" cy="452.6" r="0.5" fill="#2c2690" opacity="0.85"/>
<circle cx="291.1" cy="447.6" r="0.5" fill="#3a32b0" opacity="0.85"/>
<circle cx="274.3" cy="449.9" r="0.5" fill="#2c2690" opacity="0.85"/>
<circle cx="275.9" cy="451.1" r="0.5" fill="#4840c4" opacity="0.85"/>
<circle cx="299.8" cy="454.4" r="0.5" fill="#342ca0" opacity="0.85"/>
<circle cx="279.7" cy="453.1" r="0.5" fill="#342ca0" opacity="0.85"/>
<circle cx="297.4" cy="453.7" r="0.5" fill="#3a32b0" opacity="0.85"/>
<circle cx="292.5" cy="482.8" r="0.5" fill="#2c2690" opacity="0.85"/>
<circle cx="273.8" cy="474.8" r="0.5" fill="#3a32b0" opacity="0.85"/>
<circle cx="295.4" cy="464.6" r="0.5" fill="#3a32b0" opacity="0.85"/>
<circle cx="288.0" cy="457.6" r="0.5" fill="#4840c4" opacity="0.85"/>
<circle cx="298.8" cy="466.0" r="0.5" fill="#3a32b0" opacity="0.85"/>
<circle cx="285.2" cy="483.3" r="0.5" fill="#342ca0" opacity="0.85"/>
<circle cx="275.8" cy="453.6" r="0.5" fill="#3a32b0" opacity="0.85"/>
<circle cx="272.4" cy="459.9" r="0.5" fill="#342ca0" opacity="0.85"/>
<circle cx="292.3" cy="480.7" r="0.5" fill="#2c2690" opacity="0.85"/>
<circle cx="282.9" cy="487.1" r="0.5" fill="#3a32b0" opacity="0.85"/>
<circle cx="273.1" cy="461.5" r="0.5" fill="#3a32b0" opacity="0.85"/>
<circle cx="266.8" cy="448.8" r="0.5" fill="#2c2690" opacity="0.85"/>
<circle cx="298.0" cy="450.8" r="0.5" fill="#342ca0" opacity="0.85"/>
<circle cx="285.2" cy="483.0" r="0.5" fill="#3a32b0" opacity="0.85"/>
<circle cx="274.4" cy="463.7" r="0.5" fill="#4840c4" opacity="0.85"/>
<circle cx="279.4" cy="481.6" r="0.5" fill="#2c2690" opacity="0.85"/>
<circle cx="279.5" cy="478.2" r="0.5" fill="#4840c4" opacity="0.85"/>
<circle cx="277.3" cy="460.7" r="0.5" fill="#2c2690" opacity="0.85"/>
<circle cx="287.9" cy="480.2" r="0.5" fill="#2c2690" opacity="0.85"/>
<circle cx="280.1" cy="466.8" r="0.5" fill="#2c2690" opacity="0.85"/>
<circle cx="285.9" cy="457.9" r="0.5" fill="#2c2690" opacity="0.85"/>
<circle cx="304.6" cy="473.2" r="0.5" fill="#3a32b0" opacity="0.85"/>
<circle cx="279.1" cy="459.7" r="0.5" fill="#2c2690" opacity="0.85"/>
<circle cx="271.1" cy="486.0" r="0.5" fill="#3a32b0" opacity="0.85"/>
<circle cx="297.1" cy="448.6" r="0.5" fill="#342ca0" opacity="0.85"/>
<circle cx="287.6" cy="449.0" r="0.5" fill="#2c2690" opacity="0.85"/>
<circle cx="270.3" cy="448.9" r="0.5" fill="#342ca0" opacity="0.85"/>
<circle cx="290.1" cy="473.4" r="0.5" fill="#342ca0" opacity="0.85"/>
<circle cx="290.4" cy="472.1" r="0.5" fill="#3a32b0" opacity="0.85"/>
<circle cx="274.4" cy="473.7" r="0.5" fill="#342ca0" opacity="0.85"/>
<circle cx="290.8" cy="454.0" r="0.5" fill="#4840c4" opacity="0.85"/>
<circle cx="300.4" cy="463.9" r="0.5" fill="#3a32b0" opacity="0.85"/>
<circle cx="302.2" cy="473.3" r="0.5" fill="#2c2690" opacity="0.85"/>
<circle cx="300.5" cy="452.6" r="0.5" fill="#2c2690" opacity="0.85"/>
<circle cx="288.3" cy="457.3" r="0.5" fill="#2c2690" opacity="0.85"/>
<circle cx="273.3" cy="448.4" r="0.5" fill="#3a32b0" opacity="0.85"/>
<circle cx="283.1" cy="472.7" r="0.5" fill="#3a32b0" opacity="0.85"/>
<circle cx="285.7" cy="467.9" r="0.5" fill="#3a32b0" opacity="0.85"/>
<circle cx="296.6" cy="463.9" r="0.5" fill="#342ca0" opacity="0.85"/>
<circle cx="283.7" cy="447.6" r="0.5" fill="#342ca0" opacity="0.85"/>
<circle cx="289.5" cy="486.8" r="0.5" fill="#4840c4" opacity="0.85"/>
<circle cx="284.8" cy="463.5" r="0.5" fill="#3a32b0" opacity="0.85"/>
<circle cx="269.3" cy="465.9" r="0.5" fill="#4840c4" opacity="0.85"/>
<circle cx="290.8" cy="464.1" r="0.5" fill="#3a32b0" opacity="0.85"/>
<circle cx="293.1" cy="451.9" r="0.5" fill="#3a32b0" opacity="0.85"/>
<circle cx="274.6" cy="451.9" r="0.5" fill="#342ca0" opacity="0.85"/>
<circle cx="266.7" cy="475.8" r="0.5" fill="#4840c4" opacity="0.85"/>
<circle cx="283.9" cy="476.8" r="0.5" fill="#3a32b0" opacity="0.85"/>
<circle cx="280.5" cy="477.0" r="0.5" fill="#4840c4" opacity="0.85"/>
<circle cx="294.9" cy="450.4" r="0.5" fill="#342ca0" opacity="0.85"/>
<circle cx="284.2" cy="484.4" r="0.5" fill="#2c2690" opacity="0.85"/>
<circle cx="302.2" cy="449.1" r="0.5" fill="#3a32b0" opacity="0.85"/>
<circle cx="266.5" cy="447.6" r="0.5" fill="#3a32b0" opacity="0.85"/>
<circle cx="281.4" cy="459.5" r="0.5" fill="#4840c4" opacity="0.85"/>
<circle cx="303.9" cy="480.5" r="0.5" fill="#3a32b0" opacity="0.85"/>
<circle cx="278.5" cy="485.0" r="0.5" fill="#342ca0" opacity="0.85"/>
<circle cx="284.6" cy="453.7" r="0.5" fill="#3a32b0" opacity="0.85"/>
<circle cx="280.4" cy="472.9" r="0.5" fill="#342ca0" opacity="0.85"/>
<circle cx="284.9" cy="478.2" r="0.5" fill="#342ca0" opacity="0.85"/>
<circle cx="303.4" cy="478.5" r="0.5" fill="#2c2690" opacity="0.85"/>
<circle cx="277.6" cy="449.4" r="0.5" fill="#2c2690" opacity="0.85"/>
<circle cx="300.4" cy="476.1" r="0.5" fill="#3a32b0" opacity="0.85"/>
<circle cx="298.9" cy="471.1" r="0.5" fill="#2c2690" opacity="0.85"/>
<circle cx="289.2" cy="486.2" r="0.5" fill="#4840c4" opacity="0.85"/>
<circle cx="280.9" cy="474.5" r="0.5" fill="#4840c4" opacity="0.85"/>
<circle cx="298.0" cy="458.4" r="0.5" fill="#3a32b0" opacity="0.85"/>
<circle cx="278.7" cy="457.7" r="0.5" fill="#4840c4" opacity="0.85"/>
<circle cx="289.2" cy="479.7" r="0.5" fill="#3a32b0" opacity="0.85"/>
<rect x="313.40" y="446.00" width="41.60" height="42.10" fill="#0e0405"/>
<circle cx="325.8" cy="452.6" r="0.6" fill="#701820" opacity="0.75"/>
<circle cx="320.2" cy="486.1" r="0.6" fill="#701820" opacity="0.75"/>
<circle cx="341.5" cy="483.6" r="0.6" fill="#4a0c12" opacity="0.75"/>
<circle cx="335.6" cy="468.7" r="0.6" fill="#4a0c12" opacity="0.75"/>
<circle cx="346.0" cy="455.0" r="0.6" fill="#701820" opacity="0.75"/>
<circle cx="351.3" cy="456.4" r="0.6" fill="#701820" opacity="0.75"/>
<circle cx="316.7" cy="462.9" r="0.6" fill="#701820" opacity="0.75"/>
<circle cx="322.6" cy="457.2" r="0.6" fill="#5e1016" opacity="0.75"/>
<circle cx="345.7" cy="465.4" r="0.6" fill="#5e1016" opacity="0.75"/>
<circle cx="335.6" cy="461.2" r="0.6" fill="#5e1016" opacity="0.75"/>
<circle cx="323.6" cy="470.2" r="0.6" fill="#4a0c12" opacity="0.75"/>
<circle cx="349.4" cy="467.9" r="0.6" fill="#4a0c12" opacity="0.75"/>
<circle cx="334.4" cy="455.1" r="0.6" fill="#5e1016" opacity="0.75"/>
<circle cx="322.0" cy="454.2" r="0.6" fill="#701820" opacity="0.75"/>
<circle cx="325.9" cy="470.2" r="0.6" fill="#4a0c12" opacity="0.75"/>
<circle cx="330.3" cy="467.7" r="0.6" fill="#5e1016" opacity="0.75"/>
<circle cx="324.2" cy="484.0" r="0.6" fill="#4a0c12" opacity="0.75"/>
<circle cx="329.2" cy="451.3" r="0.6" fill="#701820" opacity="0.75"/>
<circle cx="332.8" cy="450.3" r="0.6" fill="#4a0c12" opacity="0.75"/>
<circle cx="338.0" cy="460.8" r="0.6" fill="#701820" opacity="0.75"/>
<circle cx="338.4" cy="450.8" r="0.6" fill="#5e1016" opacity="0.75"/>
<circle cx="353.6" cy="481.7" r="0.6" fill="#4a0c12" opacity="0.75"/>
<circle cx="337.6" cy="455.6" r="0.6" fill="#4a0c12" opacity="0.75"/>
<circle cx="331.3" cy="485.0" r="0.6" fill="#701820" opacity="0.75"/>
<circle cx="346.8" cy="485.6" r="0.6" fill="#4a0c12" opacity="0.75"/>
<circle cx="347.8" cy="460.6" r="0.6" fill="#5e1016" opacity="0.75"/>
<circle cx="329.4" cy="448.1" r="0.6" fill="#5e1016" opacity="0.75"/>
<circle cx="336.5" cy="481.9" r="0.6" fill="#4a0c12" opacity="0.75"/>
<circle cx="333.7" cy="480.9" r="0.6" fill="#5e1016" opacity="0.75"/>
<circle cx="348.6" cy="472.7" r="0.6" fill="#5e1016" opacity="0.75"/>
<circle cx="342.4" cy="450.6" r="0.6" fill="#4a0c12" opacity="0.75"/>
<circle cx="336.8" cy="472.7" r="0.6" fill="#701820" opacity="0.75"/>
<circle cx="334.5" cy="454.3" r="0.6" fill="#5e1016" opacity="0.75"/>
<circle cx="329.1" cy="456.4" r="0.6" fill="#701820" opacity="0.75"/>
<circle cx="323.2" cy="448.5" r="0.6" fill="#4a0c12" opacity="0.75"/>
<circle cx="351.7" cy="449.4" r="0.6" fill="#701820" opacity="0.75"/>
<circle cx="350.2" cy="480.6" r="0.6" fill="#5e1016" opacity="0.75"/>
<circle cx="324.6" cy="467.6" r="0.6" fill="#701820" opacity="0.75"/>
<circle cx="340.0" cy="486.5" r="0.6" fill="#5e1016" opacity="0.75"/>
<circle cx="318.4" cy="459.7" r="0.6" fill="#5e1016" opacity="0.75"/>
<circle cx="351.6" cy="474.1" r="0.6" fill="#4a0c12" opacity="0.75"/>
<circle cx="337.8" cy="464.7" r="0.6" fill="#701820" opacity="0.75"/>
<circle cx="318.6" cy="460.0" r="0.6" fill="#4a0c12" opacity="0.75"/>
<circle cx="329.8" cy="462.0" r="0.6" fill="#4a0c12" opacity="0.75"/>
<circle cx="321.1" cy="456.6" r="0.6" fill="#5e1016" opacity="0.75"/>
<circle cx="350.6" cy="482.8" r="0.6" fill="#4a0c12" opacity="0.75"/>
<circle cx="342.8" cy="454.8" r="0.6" fill="#5e1016" opacity="0.75"/>
<circle cx="320.6" cy="480.4" r="0.6" fill="#5e1016" opacity="0.75"/>
<circle cx="351.4" cy="481.8" r="0.6" fill="#701820" opacity="0.75"/>
<circle cx="319.9" cy="464.9" r="0.6" fill="#5e1016" opacity="0.75"/>
<circle cx="351.1" cy="462.4" r="0.6" fill="#5e1016" opacity="0.75"/>
<circle cx="339.3" cy="465.1" r="0.6" fill="#4a0c12" opacity="0.75"/>
<circle cx="327.2" cy="456.4" r="0.6" fill="#5e1016" opacity="0.75"/>
<circle cx="339.3" cy="452.7" r="0.6" fill="#5e1016" opacity="0.75"/>
<circle cx="343.5" cy="454.2" r="0.6" fill="#4a0c12" opacity="0.75"/>
<circle cx="336.3" cy="452.8" r="0.6" fill="#5e1016" opacity="0.75"/>
<circle cx="324.9" cy="463.5" r="0.6" fill="#5e1016" opacity="0.75"/>
<circle cx="315.4" cy="469.9" r="0.6" fill="#4a0c12" opacity="0.75"/>
<circle cx="327.6" cy="453.7" r="0.6" fill="#4a0c12" opacity="0.75"/>
<circle cx="318.7" cy="465.3" r="0.6" fill="#4a0c12" opacity="0.75"/>
<circle cx="318.9" cy="486.2" r="0.6" fill="#5e1016" opacity="0.75"/>
<circle cx="339.4" cy="478.6" r="0.6" fill="#5e1016" opacity="0.75"/>
<circle cx="336.6" cy="480.5" r="0.6" fill="#5e1016" opacity="0.75"/>
<circle cx="324.6" cy="455.1" r="0.6" fill="#4a0c12" opacity="0.75"/>
<circle cx="331.5" cy="457.5" r="0.6" fill="#5e1016" opacity="0.75"/>
<circle cx="351.0" cy="450.9" r="0.6" fill="#4a0c12" opacity="0.75"/>
<circle cx="330.9" cy="453.5" r="0.6" fill="#701820" opacity="0.75"/>
<circle cx="353.1" cy="452.8" r="0.6" fill="#701820" opacity="0.75"/>
<circle cx="315.0" cy="479.4" r="0.6" fill="#4a0c12" opacity="0.75"/>
<circle cx="334.6" cy="464.8" r="0.6" fill="#701820" opacity="0.75"/>
<circle cx="325.7" cy="461.4" r="0.6" fill="#5e1016" opacity="0.75"/>
<circle cx="350.5" cy="455.8" r="0.6" fill="#701820" opacity="0.75"/>
<circle cx="321.6" cy="480.8" r="0.6" fill="#701820" opacity="0.75"/>
<circle cx="344.9" cy="475.5" r="0.6" fill="#5e1016" opacity="0.75"/>
<circle cx="338.2" cy="480.2" r="0.6" fill="#701820" opacity="0.75"/>
<circle cx="343.3" cy="477.5" r="0.6" fill="#5e1016" opacity="0.75"/>
<circle cx="322.6" cy="471.6" r="0.6" fill="#701820" opacity="0.75"/>
<circle cx="339.3" cy="454.7" r="0.6" fill="#4a0c12" opacity="0.75"/>
<circle cx="322.4" cy="449.6" r="0.6" fill="#701820" opacity="0.75"/>
<circle cx="335.0" cy="480.7" r="0.6" fill="#5e1016" opacity="0.75"/>
<circle cx="334.9" cy="460.9" r="0.6" fill="#4a0c12" opacity="0.75"/>
<circle cx="347.7" cy="481.7" r="0.6" fill="#4a0c12" opacity="0.75"/>
<circle cx="318.0" cy="463.4" r="0.6" fill="#4a0c12" opacity="0.75"/>
<circle cx="319.7" cy="473.7" r="0.6" fill="#5e1016" opacity="0.75"/>
<circle cx="321.8" cy="480.3" r="0.6" fill="#4a0c12" opacity="0.75"/>
<circle cx="315.9" cy="475.2" r="0.6" fill="#701820" opacity="0.75"/>
<circle cx="338.0" cy="447.2" r="0.6" fill="#701820" opacity="0.75"/>
<circle cx="351.3" cy="485.8" r="0.6" fill="#5e1016" opacity="0.75"/>
<circle cx="319.2" cy="475.7" r="0.6" fill="#4a0c12" opacity="0.75"/>
<circle cx="345.3" cy="481.8" r="0.6" fill="#701820" opacity="0.75"/>
<circle cx="344.2" cy="449.5" r="0.6" fill="#5e1016" opacity="0.75"/>
<circle cx="352.2" cy="466.8" r="0.6" fill="#701820" opacity="0.75"/>
<circle cx="315.4" cy="479.3" r="0.6" fill="#5e1016" opacity="0.75"/>
<circle cx="315.2" cy="485.8" r="0.6" fill="#5e1016" opacity="0.75"/>
<circle cx="338.9" cy="453.7" r="0.6" fill="#4a0c12" opacity="0.75"/>
<circle cx="324.3" cy="479.8" r="0.6" fill="#5e1016" opacity="0.75"/>
<circle cx="315.2" cy="484.1" r="0.6" fill="#701820" opacity="0.75"/>
<circle cx="322.1" cy="447.7" r="0.6" fill="#701820" opacity="0.75"/>
<circle cx="339.6" cy="465.6" r="0.6" fill="#5e1016" opacity="0.75"/>
<circle cx="342.2" cy="451.1" r="0.6" fill="#5e1016" opacity="0.75"/>
<circle cx="342.8" cy="448.8" r="0.6" fill="#5e1016" opacity="0.75"/>
<circle cx="332.8" cy="470.5" r="0.6" fill="#4a0c12" opacity="0.75"/>
<circle cx="318.8" cy="451.9" r="0.6" fill="#5e1016" opacity="0.75"/>
<circle cx="335.8" cy="456.1" r="0.6" fill="#5e1016" opacity="0.75"/>
<circle cx="320.2" cy="470.0" r="0.6" fill="#701820" opacity="0.75"/>
<circle cx="330.1" cy="485.0" r="0.6" fill="#5e1016" opacity="0.75"/>
<circle cx="351.5" cy="462.6" r="0.6" fill="#4a0c12" opacity="0.75"/>
<circle cx="338.0" cy="471.2" r="0.6" fill="#5e1016" opacity="0.75"/>
<circle cx="330.1" cy="484.7" r="0.6" fill="#4a0c12" opacity="0.75"/>
<circle cx="327.8" cy="456.6" r="0.6" fill="#4a0c12" opacity="0.75"/>
<circle cx="342.7" cy="480.8" r="0.6" fill="#701820" opacity="0.75"/>
<circle cx="346.3" cy="483.6" r="0.6" fill="#4a0c12" opacity="0.75"/>
<circle cx="348.0" cy="449.1" r="0.6" fill="#701820" opacity="0.75"/>
<circle cx="320.2" cy="474.3" r="0.6" fill="#4a0c12" opacity="0.75"/>
<circle cx="324.3" cy="463.9" r="0.6" fill="#701820" opacity="0.75"/>
<circle cx="314.9" cy="451.4" r="0.6" fill="#5e1016" opacity="0.75"/>
<circle cx="317.1" cy="464.4" r="0.6" fill="#701820" opacity="0.75"/>
<circle cx="340.9" cy="456.0" r="0.6" fill="#4a0c12" opacity="0.75"/>
<circle cx="352.8" cy="478.1" r="0.6" fill="#4a0c12" opacity="0.75"/>
<circle cx="339.5" cy="479.5" r="0.6" fill="#5e1016" opacity="0.75"/>
<circle cx="315.8" cy="472.7" r="0.6" fill="#4a0c12" opacity="0.75"/>
<circle cx="350.8" cy="472.0" r="0.6" fill="#701820" opacity="0.75"/>
<circle cx="335.9" cy="484.1" r="0.6" fill="#701820" opacity="0.75"/>
<circle cx="318.4" cy="451.9" r="0.6" fill="#5e1016" opacity="0.75"/>
<circle cx="331.6" cy="485.1" r="0.6" fill="#4a0c12" opacity="0.75"/>
<circle cx="318.9" cy="460.9" r="0.6" fill="#5e1016" opacity="0.75"/>
<circle cx="319.2" cy="470.8" r="0.6" fill="#701820" opacity="0.75"/>
<circle cx="350.1" cy="450.4" r="0.6" fill="#701820" opacity="0.75"/>
<circle cx="335.5" cy="453.0" r="0.6" fill="#5e1016" opacity="0.75"/>
<circle cx="334.7" cy="482.5" r="0.6" fill="#4a0c12" opacity="0.75"/>
<rect x="363.90" y="446.00" width="41.60" height="42.10" fill="#0b0516"/>
<circle cx="387.8" cy="458.0" r="0.55" fill="#6a2080" opacity="0.85"/>
<circle cx="394.2" cy="458.5" r="0.55" fill="#3a2ca8" opacity="0.85"/>
<circle cx="389.1" cy="469.9" r="0.55" fill="#3a2ca8" opacity="0.85"/>
<circle cx="372.9" cy="475.5" r="0.55" fill="#3a2ca8" opacity="0.85"/>
<circle cx="400.2" cy="459.2" r="0.55" fill="#3a2ca8" opacity="0.85"/>
<circle cx="383.5" cy="459.5" r="0.55" fill="#4434b4" opacity="0.85"/>
<circle cx="378.1" cy="454.6" r="0.55" fill="#4a38c0" opacity="0.85"/>
<circle cx="380.1" cy="470.5" r="0.55" fill="#6a2080" opacity="0.85"/>
<circle cx="401.5" cy="453.5" r="0.55" fill="#4434b4" opacity="0.85"/>
<circle cx="377.7" cy="460.1" r="0.55" fill="#86225c" opacity="0.85"/>
<circle cx="376.2" cy="486.6" r="0.55" fill="#86225c" opacity="0.85"/>
<circle cx="367.2" cy="447.9" r="0.55" fill="#4a38c0" opacity="0.85"/>
<circle cx="367.5" cy="481.9" r="0.55" fill="#3a2ca8" opacity="0.85"/>
<circle cx="390.9" cy="467.7" r="0.55" fill="#3a2ca8" opacity="0.85"/>
<circle cx="378.9" cy="477.6" r="0.55" fill="#4a38c0" opacity="0.85"/>
<circle cx="373.8" cy="485.5" r="0.55" fill="#4434b4" opacity="0.85"/>
<circle cx="381.4" cy="473.8" r="0.55" fill="#4434b4" opacity="0.85"/>
<circle cx="391.6" cy="471.7" r="0.55" fill="#86225c" opacity="0.85"/>
<circle cx="397.4" cy="467.8" r="0.55" fill="#3a2ca8" opacity="0.85"/>
<circle cx="375.5" cy="472.3" r="0.55" fill="#4434b4" opacity="0.85"/>
<circle cx="381.3" cy="451.1" r="0.55" fill="#3a2ca8" opacity="0.85"/>
<circle cx="395.2" cy="470.5" r="0.55" fill="#3a2ca8" opacity="0.85"/>
<circle cx="380.6" cy="486.8" r="0.55" fill="#4434b4" opacity="0.85"/>
<circle cx="381.4" cy="478.4" r="0.55" fill="#4a38c0" opacity="0.85"/>
<circle cx="389.0" cy="462.2" r="0.55" fill="#3a2ca8" opacity="0.85"/>
<circle cx="392.3" cy="458.6" r="0.55" fill="#86225c" opacity="0.85"/>
<circle cx="376.5" cy="462.7" r="0.55" fill="#4a38c0" opacity="0.85"/>
<circle cx="388.5" cy="473.0" r="0.55" fill="#6a2080" opacity="0.85"/>
<circle cx="396.1" cy="481.1" r="0.55" fill="#3a2ca8" opacity="0.85"/>
<circle cx="380.0" cy="459.0" r="0.55" fill="#4a38c0" opacity="0.85"/>
<circle cx="376.9" cy="452.8" r="0.55" fill="#4a38c0" opacity="0.85"/>
<circle cx="379.8" cy="456.3" r="0.55" fill="#86225c" opacity="0.85"/>
<circle cx="377.7" cy="480.8" r="0.55" fill="#4434b4" opacity="0.85"/>
<circle cx="402.9" cy="455.2" r="0.55" fill="#3a2ca8" opacity="0.85"/>
<circle cx="400.2" cy="485.3" r="0.55" fill="#6a2080" opacity="0.85"/>
<circle cx="366.8" cy="469.7" r="0.55" fill="#3a2ca8" opacity="0.85"/>
<circle cx="376.8" cy="468.5" r="0.55" fill="#86225c" opacity="0.85"/>
<circle cx="386.2" cy="487.0" r="0.55" fill="#4a38c0" opacity="0.85"/>
<circle cx="397.6" cy="476.2" r="0.55" fill="#3a2ca8" opacity="0.85"/>
<circle cx="380.3" cy="461.3" r="0.55" fill="#4a38c0" opacity="0.85"/>
<circle cx="391.7" cy="465.2" r="0.55" fill="#6a2080" opacity="0.85"/>
<circle cx="391.7" cy="468.1" r="0.55" fill="#6a2080" opacity="0.85"/>
<circle cx="381.1" cy="467.1" r="0.55" fill="#4a38c0" opacity="0.85"/>
<circle cx="401.7" cy="453.2" r="0.55" fill="#4434b4" opacity="0.85"/>
<circle cx="403.1" cy="466.5" r="0.55" fill="#3a2ca8" opacity="0.85"/>
<circle cx="395.3" cy="483.1" r="0.55" fill="#4a38c0" opacity="0.85"/>
<circle cx="378.5" cy="468.3" r="0.55" fill="#6a2080" opacity="0.85"/>
<circle cx="371.7" cy="459.8" r="0.55" fill="#6a2080" opacity="0.85"/>
<circle cx="397.6" cy="467.6" r="0.55" fill="#6a2080" opacity="0.85"/>
<circle cx="390.9" cy="458.8" r="0.55" fill="#86225c" opacity="0.85"/>
<circle cx="397.4" cy="486.7" r="0.55" fill="#3a2ca8" opacity="0.85"/>
<circle cx="389.9" cy="468.0" r="0.55" fill="#4a38c0" opacity="0.85"/>
<circle cx="373.1" cy="482.8" r="0.55" fill="#3a2ca8" opacity="0.85"/>
<circle cx="372.1" cy="472.3" r="0.55" fill="#4a38c0" opacity="0.85"/>
<circle cx="369.1" cy="469.9" r="0.55" fill="#6a2080" opacity="0.85"/>
<circle cx="392.3" cy="447.4" r="0.55" fill="#6a2080" opacity="0.85"/>
<circle cx="377.0" cy="474.7" r="0.55" fill="#6a2080" opacity="0.85"/>
<circle cx="401.2" cy="462.9" r="0.55" fill="#6a2080" opacity="0.85"/>
<circle cx="388.1" cy="473.8" r="0.55" fill="#4434b4" opacity="0.85"/>
<circle cx="371.8" cy="477.8" r="0.55" fill="#4a38c0" opacity="0.85"/>
<circle cx="375.4" cy="472.9" r="0.55" fill="#4a38c0" opacity="0.85"/>
<circle cx="385.3" cy="452.8" r="0.55" fill="#4434b4" opacity="0.85"/>
<circle cx="381.2" cy="451.9" r="0.55" fill="#4434b4" opacity="0.85"/>
<circle cx="385.4" cy="467.4" r="0.55" fill="#6a2080" opacity="0.85"/>
<circle cx="368.9" cy="453.8" r="0.55" fill="#4a38c0" opacity="0.85"/>
<circle cx="384.3" cy="465.7" r="0.55" fill="#3a2ca8" opacity="0.85"/>
<circle cx="396.8" cy="449.5" r="0.55" fill="#6a2080" opacity="0.85"/>
<circle cx="392.0" cy="470.2" r="0.55" fill="#4434b4" opacity="0.85"/>
<circle cx="393.2" cy="461.2" r="0.55" fill="#4434b4" opacity="0.85"/>
<circle cx="366.2" cy="472.2" r="0.55" fill="#4a38c0" opacity="0.85"/>
<circle cx="367.4" cy="454.7" r="0.55" fill="#4a38c0" opacity="0.85"/>
<circle cx="380.2" cy="449.2" r="0.55" fill="#3a2ca8" opacity="0.85"/>
<circle cx="388.0" cy="485.5" r="0.55" fill="#3a2ca8" opacity="0.85"/>
<circle cx="367.1" cy="456.6" r="0.55" fill="#4434b4" opacity="0.85"/>
<circle cx="366.6" cy="484.3" r="0.55" fill="#4434b4" opacity="0.85"/>
<circle cx="377.4" cy="483.0" r="0.55" fill="#3a2ca8" opacity="0.85"/>
<circle cx="376.9" cy="471.2" r="0.55" fill="#3a2ca8" opacity="0.85"/>
<circle cx="403.7" cy="449.7" r="0.55" fill="#3a2ca8" opacity="0.85"/>
<circle cx="391.6" cy="470.5" r="0.55" fill="#3a2ca8" opacity="0.85"/>
<circle cx="377.1" cy="482.1" r="0.55" fill="#3a2ca8" opacity="0.85"/>
<circle cx="365.8" cy="481.8" r="0.55" fill="#6a2080" opacity="0.85"/>
<circle cx="371.8" cy="461.4" r="0.55" fill="#4434b4" opacity="0.85"/>
<circle cx="365.2" cy="482.4" r="0.55" fill="#3a2ca8" opacity="0.85"/>
<circle cx="387.1" cy="451.6" r="0.55" fill="#4a38c0" opacity="0.85"/>
<circle cx="399.4" cy="460.5" r="0.55" fill="#6a2080" opacity="0.85"/>
<circle cx="403.0" cy="463.9" r="0.55" fill="#86225c" opacity="0.85"/>
<circle cx="386.8" cy="462.5" r="0.55" fill="#3a2ca8" opacity="0.85"/>
<circle cx="376.1" cy="456.5" r="0.55" fill="#6a2080" opacity="0.85"/>
<circle cx="376.0" cy="448.0" r="0.55" fill="#4434b4" opacity="0.85"/>
<circle cx="374.5" cy="452.2" r="0.55" fill="#4434b4" opacity="0.85"/>
<circle cx="375.6" cy="480.5" r="0.55" fill="#4434b4" opacity="0.85"/>
<circle cx="386.9" cy="465.7" r="0.55" fill="#4434b4" opacity="0.85"/>
<circle cx="371.2" cy="461.2" r="0.55" fill="#3a2ca8" opacity="0.85"/>
<circle cx="379.8" cy="485.4" r="0.55" fill="#4434b4" opacity="0.85"/>
<circle cx="376.7" cy="466.1" r="0.55" fill="#4434b4" opacity="0.85"/>
<circle cx="373.9" cy="465.2" r="0.55" fill="#4434b4" opacity="0.85"/>
<circle cx="402.2" cy="487.0" r="0.55" fill="#4a38c0" opacity="0.85"/>
<circle cx="400.5" cy="470.6" r="0.55" fill="#86225c" opacity="0.85"/>
<circle cx="386.1" cy="463.2" r="0.55" fill="#4a38c0" opacity="0.85"/>
<circle cx="373.3" cy="482.0" r="0.55" fill="#6a2080" opacity="0.85"/>
<circle cx="391.7" cy="450.7" r="0.55" fill="#86225c" opacity="0.85"/>
<circle cx="394.0" cy="477.7" r="0.55" fill="#6a2080" opacity="0.85"/>
<circle cx="390.9" cy="469.8" r="0.55" fill="#86225c" opacity="0.85"/>
<circle cx="365.5" cy="475.5" r="0.55" fill="#4434b4" opacity="0.85"/>
<circle cx="395.6" cy="456.3" r="0.55" fill="#4434b4" opacity="0.85"/>
<circle cx="391.1" cy="451.4" r="0.55" fill="#4a38c0" opacity="0.85"/>
<circle cx="401.1" cy="479.3" r="0.55" fill="#86225c" opacity="0.85"/>
<circle cx="372.5" cy="475.8" r="0.55" fill="#6a2080" opacity="0.85"/>
<circle cx="373.9" cy="452.1" r="0.55" fill="#3a2ca8" opacity="0.85"/>
<circle cx="376.1" cy="463.2" r="0.55" fill="#3a2ca8" opacity="0.85"/>
<circle cx="395.6" cy="482.4" r="0.55" fill="#4434b4" opacity="0.85"/>
<circle cx="402.0" cy="454.1" r="0.55" fill="#86225c" opacity="0.85"/>
<circle cx="391.8" cy="473.6" r="0.55" fill="#86225c" opacity="0.85"/>
<circle cx="400.4" cy="448.0" r="0.55" fill="#3a2ca8" opacity="0.85"/>
<circle cx="374.7" cy="481.0" r="0.55" fill="#86225c" opacity="0.85"/>
<circle cx="400.8" cy="450.9" r="0.55" fill="#86225c" opacity="0.85"/>
<circle cx="369.5" cy="483.6" r="0.55" fill="#4434b4" opacity="0.85"/>
<circle cx="393.1" cy="448.6" r="0.55" fill="#6a2080" opacity="0.85"/>
<circle cx="389.0" cy="464.3" r="0.55" fill="#86225c" opacity="0.85"/>
<circle cx="371.1" cy="476.6" r="0.55" fill="#4a38c0" opacity="0.85"/>
<circle cx="377.2" cy="472.6" r="0.55" fill="#4434b4" opacity="0.85"/>
<circle cx="387.3" cy="456.1" r="0.55" fill="#3a2ca8" opacity="0.85"/>
<circle cx="393.3" cy="457.2" r="0.55" fill="#3a2ca8" opacity="0.85"/>
<circle cx="391.4" cy="470.1" r="0.55" fill="#6a2080" opacity="0.85"/>
<circle cx="369.3" cy="477.6" r="0.55" fill="#86225c" opacity="0.85"/>
<circle cx="400.6" cy="482.1" r="0.55" fill="#4a38c0" opacity="0.85"/>
<circle cx="389.0" cy="448.9" r="0.55" fill="#4434b4" opacity="0.85"/>
<circle cx="391.9" cy="448.5" r="0.55" fill="#86225c" opacity="0.85"/>
<circle cx="373.2" cy="483.7" r="0.55" fill="#6a2080" opacity="0.85"/>
<circle cx="381.4" cy="476.8" r="0.55" fill="#4a38c0" opacity="0.85"/>
<circle cx="397.7" cy="458.3" r="0.55" fill="#6a2080" opacity="0.85"/>
<circle cx="378.7" cy="485.1" r="0.55" fill="#3a2ca8" opacity="0.85"/>
<circle cx="401.7" cy="474.7" r="0.55" fill="#3a2ca8" opacity="0.85"/>
<circle cx="385.0" cy="474.1" r="0.55" fill="#4434b4" opacity="0.85"/>
<circle cx="381.9" cy="467.5" r="0.55" fill="#4434b4" opacity="0.85"/>
<circle cx="384.3" cy="454.6" r="0.55" fill="#4a38c0" opacity="0.85"/>
<circle cx="375.2" cy="468.9" r="0.55" fill="#4434b4" opacity="0.85"/>
<circle cx="386.4" cy="457.0" r="0.55" fill="#6a2080" opacity="0.85"/>
<circle cx="371.6" cy="460.9" r="0.55" fill="#6a2080" opacity="0.85"/>
<circle cx="372.9" cy="459.5" r="0.55" fill="#4434b4" opacity="0.85"/>
<circle cx="392.1" cy="466.5" r="0.55" fill="#3a2ca8" opacity="0.85"/>
<circle cx="374.3" cy="456.7" r="0.55" fill="#4a38c0" opacity="0.85"/>
<circle cx="392.3" cy="452.3" r="0.55" fill="#86225c" opacity="0.85"/>
<circle cx="392.5" cy="452.3" r="0.55" fill="#4434b4" opacity="0.85"/>
<circle cx="388.2" cy="456.7" r="0.55" fill="#6a2080" opacity="0.85"/>
<circle cx="386.6" cy="477.5" r="0.55" fill="#4434b4" opacity="0.85"/>
<circle cx="391.7" cy="453.2" r="0.55" fill="#3a2ca8" opacity="0.85"/>
<circle cx="398.1" cy="463.3" r="0.55" fill="#4434b4" opacity="0.85"/>
<circle cx="369.4" cy="458.6" r="0.55" fill="#86225c" opacity="0.85"/>
<circle cx="384.2" cy="448.7" r="0.55" fill="#86225c" opacity="0.85"/>
<text transform="translate(286.00,349.30) scale(1.0,1)" font-size="6" text-anchor="middle" font-weight="normal" fill="#000" stroke="#000" stroke-width="0.1">DAPI</text>
<text transform="translate(334.30,349.30) scale(1.0,1)" font-size="6" text-anchor="middle" font-weight="normal" fill="#000" stroke="#000" stroke-width="0.1">PLA</text>
<text transform="translate(385.60,349.30) scale(1.0,1)" font-size="6" text-anchor="middle" font-weight="normal" fill="#000" stroke="#000" stroke-width="0.1">Overlay</text>
<text transform="translate(247.00,368.00) scale(1.0,1)" font-size="6" text-anchor="middle" font-weight="normal" fill="#000" stroke="#000" stroke-width="0.1">Fibroblasts</text>
<text transform="translate(247.00,375.70) scale(1.0,1)" font-size="6" text-anchor="middle" font-weight="normal" fill="#000" stroke="#000" stroke-width="0.1">(24:02)</text>
<text transform="translate(247.00,383.10) scale(1.0,1)" font-size="6" text-anchor="middle" font-weight="normal" fill="#000" stroke="#000" stroke-width="0.1">probe cntrl</text>
<text transform="translate(249.80,421.30) scale(1.0,1)" font-size="6" text-anchor="middle" font-weight="normal" fill="#000" stroke="#000" stroke-width="0.1">SW480</text>
<text transform="translate(247.00,465.50) scale(1.0,1)" font-size="6" text-anchor="middle" font-weight="normal" fill="#000" stroke="#000" stroke-width="0.1">Fibroblasts</text>
<text transform="translate(247.00,473.10) scale(1.0,1)" font-size="6" text-anchor="middle" font-weight="normal" fill="#000" stroke="#000" stroke-width="0.1">(24:02)</text>
<line x1="439.40" y1="360.80" x2="439.40" y2="452.70" stroke="#000" stroke-width="1.0" />
<line x1="438.90" y1="452.20" x2="512.60" y2="452.20" stroke="#000" stroke-width="1.0" />
<line x1="436.20" y1="363.10" x2="439.40" y2="363.10" stroke="#000" stroke-width="1.0" />
<text transform="translate(434.20,365.26) scale(1.12,1)" font-size="6.0" text-anchor="end" font-weight="normal" fill="#000" letter-spacing="0.28" stroke="#000" stroke-width="0.1">4</text>
<line x1="436.20" y1="385.40" x2="439.40" y2="385.40" stroke="#000" stroke-width="1.0" />
<text transform="translate(434.20,387.56) scale(1.12,1)" font-size="6.0" text-anchor="end" font-weight="normal" fill="#000" letter-spacing="0.28" stroke="#000" stroke-width="0.1">3</text>
<line x1="436.20" y1="407.70" x2="439.40" y2="407.70" stroke="#000" stroke-width="1.0" />
<text transform="translate(434.20,409.86) scale(1.12,1)" font-size="6.0" text-anchor="end" font-weight="normal" fill="#000" letter-spacing="0.28" stroke="#000" stroke-width="0.1">2</text>
<line x1="436.20" y1="430.00" x2="439.40" y2="430.00" stroke="#000" stroke-width="1.0" />
<text transform="translate(434.20,432.16) scale(1.12,1)" font-size="6.0" text-anchor="end" font-weight="normal" fill="#000" letter-spacing="0.28" stroke="#000" stroke-width="0.1">1</text>
<line x1="436.20" y1="452.20" x2="439.40" y2="452.20" stroke="#000" stroke-width="1.0" />
<text transform="translate(434.20,454.36) scale(1.12,1)" font-size="6.0" text-anchor="end" font-weight="normal" fill="#000" letter-spacing="0.28" stroke="#000" stroke-width="0.1">0</text>
<line x1="452.50" y1="452.20" x2="452.50" y2="455.50" stroke="#000" stroke-width="1.0" />
<line x1="476.10" y1="452.20" x2="476.10" y2="455.50" stroke="#000" stroke-width="1.0" />
<line x1="499.40" y1="452.20" x2="499.40" y2="455.50" stroke="#000" stroke-width="1.0" />
<rect x="446.10" y="451.40" width="12.80" height="0.40" fill="#a50026"/>
<rect x="493.05" y="378.50" width="12.70" height="73.30" fill="#a50026"/>
<g transform="translate(424.20,406.40) rotate(-90) scale(0.8,1)"><text x="0" y="0" font-size="7.6" text-anchor="middle" font-weight="normal" stroke="#000" stroke-width="0.2">PLA clusters / cell</text></g>
<g transform="translate(452.70,463.00) rotate(-45) scale(0.98,1)">
<text x="0.00" y="0.00" font-size="6.15" text-anchor="end" stroke="#000" stroke-width="0.1">Fibroblasts (24:02)</text>
<text x="1.00" y="7.60" font-size="6.15" text-anchor="end" stroke="#000" stroke-width="0.1">one probe control</text>
</g>
<g transform="translate(479.10,461.30) rotate(-45) scale(0.98,1)">
<text x="0.00" y="0.00" font-size="6.3" text-anchor="end" stroke="#000" stroke-width="0.1">SW480 (24:02)</text>
</g>
<g transform="translate(502.40,461.30) rotate(-45) scale(0.98,1)">
<text x="0.00" y="0.00" font-size="6.2" text-anchor="end" stroke="#000" stroke-width="0.1">Fibroblasts (24:02)</text>
</g>
<text x="209.3" y="113.6" font-family='"Liberation Mono", monospace' font-size="5.15" fill="#777" xml:space="preserve" textLength="153.6" lengthAdjust="spacing">AA Position            160        170        180</text>
<text x="209.3" y="119.8" font-family='"Liberation Mono", monospace' font-size="5.15" fill="#777" xml:space="preserve" textLength="153.6" lengthAdjust="spacing">A*24:02:01:01   HVAEQQRAYL EGTCV<tspan fill="#e2455e">DG</tspan>LRR YLENGKETLQ</text>
<text x="209.3" y="125.9" font-family='"Liberation Mono", monospace' font-size="5.15" fill="#777" xml:space="preserve" textLength="153.6" lengthAdjust="spacing">A*02:01:01:01   -----L---- -----EW--- ----------</text>
<text x="209.3" y="131.8" font-family='"Liberation Mono", monospace' font-size="5.15" fill="#777" xml:space="preserve" textLength="153.6" lengthAdjust="spacing">A*24:03:01:01   ---------- -----EW--- ----------</text>
<text x="209.3" y="138.7" font-family='"Liberation Mono", monospace' font-size="5.15" fill="#777" xml:space="preserve" textLength="153.6" lengthAdjust="spacing">A*25:01:01      -E---M---- --R--EW--- ----------</text>
<defs><filter id="soft" x="-5%" y="-5%" width="110%" height="110%"><feGaussianBlur stdDeviation="0.32"/></filter></defs>
<g id="protein" filter="url(#soft)"><path d="M270,38 C269,33 271,28 270.5,26 C270.5,23 274,22.5 275.5,25 C277,28 277,31 280,30 C283,28.5 286,29 286,31.5 C286,34.5 284,35.5 283,38" fill="none" stroke="#8c8c8c" stroke-width="0.9" stroke-linecap="round" stroke-linejoin="round"/>
<path d="M293,36 C297,35 300,34 300.5,30 C301,25 301,22 304,20 C307,18 312,18.5 313.5,21 C314.5,24 312,28 309,30 C307.5,31.5 307,33 307.5,36" fill="none" stroke="#8c8c8c" stroke-width="0.9" stroke-linecap="round" stroke-linejoin="round"/>
<path d="M318,37 C319,33 321,30 323,29 C326,30 328,33 328.5,36 C329,39 329,41 330,43" fill="none" stroke="#8c8c8c" stroke-width="0.9" stroke-linecap="round" stroke-linejoin="round"/>
<path d="M323,29 L323.5,27" fill="none" stroke="#8c8c8c" stroke-width="1.0" stroke-linecap="round" stroke-linejoin="round"/>
<path d="M252,40 C248,40 246.5,43 247.5,46" fill="none" stroke="#b5b5b5" stroke-width="1.6" stroke-linecap="round" stroke-linejoin="round"/>
<path d="M247,51 C246,54 247,58 250.5,59 C254,59.5 255,56 253,54.5" fill="none" stroke="#7d7d7d" stroke-width="2.0" stroke-linecap="round" stroke-linejoin="round"/>
<path d="M247,51 C246,54 247,58 250.5,59 C254,59.5 255,56 253,54.5" fill="none" stroke="#c9c9c9" stroke-width="0.9" stroke-linecap="round" stroke-linejoin="round"/>
<path d="M259,91 C257,94 258,98 262,98 C266,98 268,95 267,92 C266,90 262,89 259,91" fill="none" stroke="#a0a0a0" stroke-width="0.9" stroke-linecap="round" stroke-linejoin="round"/>
<path d="M259.5,92 C260,89.5 263,89 264.5,91" fill="none" stroke="#e08526" stroke-width="1.1" stroke-linecap="round" stroke-linejoin="round"/>
<path d="M266,94 C272,92 276,93 280,95" fill="none" stroke="#9a9a9a" stroke-width="0.9" stroke-linecap="round" stroke-linejoin="round"/>
<path d="M293,84 C296,87 301,87 304,84 C307,81 308,79 310,77" fill="none" stroke="#8a8a8a" stroke-width="1.0" stroke-linecap="round" stroke-linejoin="round"/>
<path d="M288.5,101 C291,99 293,95 292.5,90 C292,87 294,85 296,86" fill="none" stroke="#a8a8a8" stroke-width="0.9" stroke-linecap="round" stroke-linejoin="round"/>
<path d="M296,86 L298,90" fill="none" stroke="#8a8a8a" stroke-width="1.0" stroke-linecap="round" stroke-linejoin="round"/>
<path d="M275.0,84.0 L282.0,96.0" fill="none" stroke="#939393" stroke-width="4.0" stroke-linecap="butt" stroke-linejoin="round"/>
<path d="M275.0,84.0 L282.0,96.0" fill="none" stroke="#c2c2c2" stroke-width="3.2" stroke-linecap="butt" stroke-linejoin="round"/>
<path d="M281.0,83.0 L287.0,99.0" fill="none" stroke="#858585" stroke-width="4.6" stroke-linecap="butt" stroke-linejoin="round"/>
<path d="M281.0,83.0 L287.0,99.0" fill="none" stroke="#b4b4b4" stroke-width="3.8" stroke-linecap="butt" stroke-linejoin="round"/>
<path d="M284.0,86.0 L290.0,82.0" fill="none" stroke="#9a9a9a" stroke-width="3.3" stroke-linecap="butt" stroke-linejoin="round"/>
<path d="M284.0,86.0 L290.0,82.0" fill="none" stroke="#c0c0c0" stroke-width="2.6" stroke-linecap="butt" stroke-linejoin="round"/>
<path d="M270.0,86.0 L277.0,83.0" fill="none" stroke="#8f8f8f" stroke-width="3.3" stroke-linecap="butt" stroke-linejoin="round"/>
<path d="M270.0,86.0 L277.0,83.0" fill="none" stroke="#bdbdbd" stroke-width="2.6" stroke-linecap="butt" stroke-linejoin="round"/>
<path d="M296.0,72.0 L304.0,62.0 L311.0,57.0" fill="none" stroke="#b0b0b0" stroke-width="4.9" stroke-linecap="butt" stroke-linejoin="round"/>
<path d="M296.0,72.0 L304.0,62.0 L311.0,57.0" fill="none" stroke="#e8e8e8" stroke-width="4.2" stroke-linecap="butt" stroke-linejoin="round"/>
<path d="M302.0,74.0 L309.0,66.0 L316.0,61.0" fill="none" stroke="#a8a8a8" stroke-width="3.9000000000000004" stroke-linecap="butt" stroke-linejoin="round"/>
<path d="M302.0,74.0 L309.0,66.0 L316.0,61.0" fill="none" stroke="#dddddd" stroke-width="3.2" stroke-linecap="butt" stroke-linejoin="round"/>
<path d="M306,54 C310,56 314,56 317,54 C319,53 321,54 322,55" fill="none" stroke="#5f5f5f" stroke-width="1.1" stroke-linecap="round" stroke-linejoin="round"/>
<polygon points="268,51 300,50 312,57 304,70 272,71" fill="#b4b4b4" opacity="0.55"/>
<path d="M266.0,66.0 L271.0,57.0 L277.0,47.0" fill="none" stroke="#7d7d7d" stroke-width="4.3" stroke-linecap="butt" stroke-linejoin="round"/>
<path d="M266.0,66.0 L271.0,57.0 L277.0,47.0" fill="none" stroke="#c2c2c2" stroke-width="3.4" stroke-linecap="butt" stroke-linejoin="round"/>
<path d="M270.0,88.0 L277.0,74.0 L284.0,60.0 L289.0,50.0" fill="none" stroke="#7d7d7d" stroke-width="5.300000000000001" stroke-linecap="butt" stroke-linejoin="round"/>
<path d="M270.0,88.0 L277.0,74.0 L284.0,60.0 L289.0,50.0" fill="none" stroke="#b4b4b4" stroke-width="4.4" stroke-linecap="butt" stroke-linejoin="round"/>
<path d="M275.0,90.0 L283.0,75.0 L291.0,62.0 L297.0,52.0" fill="none" stroke="#6e6e6e" stroke-width="4.9" stroke-linecap="butt" stroke-linejoin="round"/>
<path d="M275.0,90.0 L283.0,75.0 L291.0,62.0 L297.0,52.0" fill="none" stroke="#9f9f9f" stroke-width="4.0" stroke-linecap="butt" stroke-linejoin="round"/>
<path d="M282.0,84.0 L290.0,70.0 L298.0,60.0" fill="none" stroke="#7d7d7d" stroke-width="4.5" stroke-linecap="butt" stroke-linejoin="round"/>
<path d="M282.0,84.0 L290.0,70.0 L298.0,60.0" fill="none" stroke="#c8c8c8" stroke-width="3.6" stroke-linecap="butt" stroke-linejoin="round"/>
<path d="M289.0,80.0 L296.0,69.0 L304.0,60.0" fill="none" stroke="#7d7d7d" stroke-width="4.1000000000000005" stroke-linecap="butt" stroke-linejoin="round"/>
<path d="M289.0,80.0 L296.0,69.0 L304.0,60.0" fill="none" stroke="#a9a9a9" stroke-width="3.2" stroke-linecap="butt" stroke-linejoin="round"/>
<path d="M286.5,64.5 L292.0,55.5" fill="none" stroke="#a8560c" stroke-width="4.7" stroke-linecap="butt" stroke-linejoin="round"/>
<path d="M286.5,64.5 L292.0,55.5" fill="none" stroke="#e08526" stroke-width="4.0" stroke-linecap="butt" stroke-linejoin="round"/>
<path d="M292.5,68.0 L298.5,59.5" fill="none" stroke="#a8560c" stroke-width="4.3" stroke-linecap="butt" stroke-linejoin="round"/>
<path d="M292.5,68.0 L298.5,59.5" fill="none" stroke="#e08526" stroke-width="3.6" stroke-linecap="butt" stroke-linejoin="round"/>
<path d="M298.0,58.0 L304.0,52.0" fill="none" stroke="#a8560c" stroke-width="3.7" stroke-linecap="butt" stroke-linejoin="round"/>
<path d="M298.0,58.0 L304.0,52.0" fill="none" stroke="#e08526" stroke-width="3.0" stroke-linecap="butt" stroke-linejoin="round"/>
<path d="M303.0,61.0 L308.0,55.0" fill="none" stroke="#a8560c" stroke-width="3.0" stroke-linecap="butt" stroke-linejoin="round"/>
<path d="M303.0,61.0 L308.0,55.0" fill="none" stroke="#e08526" stroke-width="2.4" stroke-linecap="butt" stroke-linejoin="round"/>
<path d="M288.0,56.0 L293.0,60.0" fill="none" stroke="#e08526" stroke-width="1.7999999999999998" stroke-linecap="butt" stroke-linejoin="round"/>
<path d="M288.0,56.0 L293.0,60.0" fill="none" stroke="#f2ad58" stroke-width="1.4" stroke-linecap="butt" stroke-linejoin="round"/>
<path d="M284.5,62 a1.6,1.6 0 1,0 3.2,0 a1.6,1.6 0 1,0 -3.2,0" fill="none" stroke="#e08526" stroke-width="0.9" stroke-linecap="round" stroke-linejoin="round"/>
<line x1="254.5" y1="48.7" x2="257.8" y2="40.3" stroke="#6b6b6b" stroke-width="2.9" stroke-linecap="round"/>
<line x1="261.4" y1="48.6" x2="264.6" y2="40.1" stroke="#6b6b6b" stroke-width="2.9" stroke-linecap="round"/>
<line x1="268.2" y1="48.4" x2="271.5" y2="40.0" stroke="#6b6b6b" stroke-width="2.9" stroke-linecap="round"/>
<line x1="275.1" y1="48.3" x2="278.3" y2="39.8" stroke="#a8560c" stroke-width="2.9" stroke-linecap="round"/>
<line x1="281.9" y1="48.2" x2="285.2" y2="39.7" stroke="#6b6b6b" stroke-width="2.9" stroke-linecap="round"/>
<line x1="288.8" y1="48.0" x2="292.1" y2="39.5" stroke="#6b6b6b" stroke-width="2.9" stroke-linecap="round"/>
<line x1="295.7" y1="47.9" x2="298.9" y2="39.4" stroke="#6b6b6b" stroke-width="2.9" stroke-linecap="round"/>
<line x1="249.2" y1="39.4" x2="253.6" y2="49.8" stroke="#6a6a6a" stroke-width="4.4" stroke-linecap="round"/>
<line x1="249.2" y1="39.4" x2="253.6" y2="49.8" stroke="#d6d6d6" stroke-width="3.6" stroke-linecap="round"/>
<line x1="250.0" y1="41.7" x2="252.1" y2="45.9" stroke="#f2f2f2" stroke-width="1.5" stroke-linecap="round" opacity="0.85"/>
<line x1="256.0" y1="39.2" x2="260.5" y2="49.7" stroke="#a8560c" stroke-width="4.4" stroke-linecap="round"/>
<line x1="256.0" y1="39.2" x2="260.5" y2="49.7" stroke="#e08526" stroke-width="3.6" stroke-linecap="round"/>
<line x1="256.9" y1="41.6" x2="258.9" y2="45.7" stroke="#f2ad58" stroke-width="1.5" stroke-linecap="round" opacity="0.85"/>
<line x1="262.9" y1="39.1" x2="267.4" y2="49.5" stroke="#6a6a6a" stroke-width="4.4" stroke-linecap="round"/>
<line x1="262.9" y1="39.1" x2="267.4" y2="49.5" stroke="#d6d6d6" stroke-width="3.6" stroke-linecap="round"/>
<line x1="263.8" y1="41.4" x2="265.8" y2="45.6" stroke="#f2f2f2" stroke-width="1.5" stroke-linecap="round" opacity="0.85"/>
<line x1="269.7" y1="39.0" x2="274.2" y2="49.4" stroke="#a8560c" stroke-width="4.4" stroke-linecap="round"/>
<line x1="269.7" y1="39.0" x2="274.2" y2="49.4" stroke="#e08526" stroke-width="3.6" stroke-linecap="round"/>
<line x1="270.6" y1="41.3" x2="272.6" y2="45.5" stroke="#f2ad58" stroke-width="1.5" stroke-linecap="round" opacity="0.85"/>
<line x1="276.6" y1="38.8" x2="281.1" y2="49.2" stroke="#6a6a6a" stroke-width="4.4" stroke-linecap="round"/>
<line x1="276.6" y1="38.8" x2="281.1" y2="49.2" stroke="#d6d6d6" stroke-width="3.6" stroke-linecap="round"/>
<line x1="277.5" y1="41.2" x2="279.5" y2="45.3" stroke="#f2f2f2" stroke-width="1.5" stroke-linecap="round" opacity="0.85"/>
<line x1="283.5" y1="38.7" x2="287.9" y2="49.1" stroke="#6a6a6a" stroke-width="4.4" stroke-linecap="round"/>
<line x1="283.5" y1="38.7" x2="287.9" y2="49.1" stroke="#d6d6d6" stroke-width="3.6" stroke-linecap="round"/>
<line x1="284.3" y1="41.0" x2="286.3" y2="45.2" stroke="#f2f2f2" stroke-width="1.5" stroke-linecap="round" opacity="0.85"/>
<line x1="290.3" y1="38.5" x2="294.8" y2="48.9" stroke="#6a6a6a" stroke-width="4.4" stroke-linecap="round"/>
<line x1="290.3" y1="38.5" x2="294.8" y2="48.9" stroke="#d6d6d6" stroke-width="3.6" stroke-linecap="round"/>
<line x1="291.2" y1="40.9" x2="293.2" y2="45.0" stroke="#f2f2f2" stroke-width="1.5" stroke-linecap="round" opacity="0.85"/>
<line x1="297.2" y1="38.4" x2="301.6" y2="48.8" stroke="#6a6a6a" stroke-width="4.4" stroke-linecap="round"/>
<line x1="297.2" y1="38.4" x2="301.6" y2="48.8" stroke="#d6d6d6" stroke-width="3.6" stroke-linecap="round"/>
<line x1="298.0" y1="40.7" x2="300.1" y2="44.9" stroke="#f2f2f2" stroke-width="1.5" stroke-linecap="round" opacity="0.85"/>
<line x1="303.3" y1="48.5" x2="306.8" y2="39.9" stroke="#a8560c" stroke-width="2.6" stroke-linecap="round"/>
<line x1="309.4" y1="48.8" x2="312.9" y2="40.2" stroke="#a8560c" stroke-width="2.6" stroke-linecap="round"/>
<line x1="315.5" y1="49.1" x2="319.0" y2="40.5" stroke="#a8560c" stroke-width="2.6" stroke-linecap="round"/>
<line x1="321.6" y1="49.4" x2="325.1" y2="40.8" stroke="#a8560c" stroke-width="2.6" stroke-linecap="round"/>
<line x1="327.7" y1="49.7" x2="331.2" y2="41.1" stroke="#5c5c5c" stroke-width="2.6" stroke-linecap="round"/>
<line x1="299.2" y1="38.4" x2="302.5" y2="49.6" stroke="#a8560c" stroke-width="4.0" stroke-linecap="round"/>
<line x1="299.2" y1="38.4" x2="302.5" y2="49.6" stroke="#e08526" stroke-width="3.2" stroke-linecap="round"/>
<line x1="299.9" y1="40.9" x2="301.3" y2="45.4" stroke="#f2ad58" stroke-width="1.3" stroke-linecap="round" opacity="0.85"/>
<line x1="305.3" y1="38.7" x2="308.6" y2="49.9" stroke="#a8560c" stroke-width="4.0" stroke-linecap="round"/>
<line x1="305.3" y1="38.7" x2="308.6" y2="49.9" stroke="#e08526" stroke-width="3.2" stroke-linecap="round"/>
<line x1="306.0" y1="41.2" x2="307.4" y2="45.7" stroke="#f2ad58" stroke-width="1.3" stroke-linecap="round" opacity="0.85"/>
<line x1="311.4" y1="39.0" x2="314.7" y2="50.2" stroke="#a8560c" stroke-width="4.0" stroke-linecap="round"/>
<line x1="311.4" y1="39.0" x2="314.7" y2="50.2" stroke="#e08526" stroke-width="3.2" stroke-linecap="round"/>
<line x1="312.1" y1="41.5" x2="313.5" y2="46.0" stroke="#f2ad58" stroke-width="1.3" stroke-linecap="round" opacity="0.85"/>
<line x1="317.5" y1="39.3" x2="320.8" y2="50.5" stroke="#a8560c" stroke-width="4.0" stroke-linecap="round"/>
<line x1="317.5" y1="39.3" x2="320.8" y2="50.5" stroke="#e08526" stroke-width="3.2" stroke-linecap="round"/>
<line x1="318.2" y1="41.8" x2="319.6" y2="46.3" stroke="#f2ad58" stroke-width="1.3" stroke-linecap="round" opacity="0.85"/>
<line x1="323.6" y1="39.6" x2="326.9" y2="50.8" stroke="#a8560c" stroke-width="4.0" stroke-linecap="round"/>
<line x1="323.6" y1="39.6" x2="326.9" y2="50.8" stroke="#e08526" stroke-width="3.2" stroke-linecap="round"/>
<line x1="324.3" y1="42.1" x2="325.7" y2="46.6" stroke="#f2ad58" stroke-width="1.3" stroke-linecap="round" opacity="0.85"/>
<line x1="329.7" y1="39.9" x2="333.0" y2="51.1" stroke="#6a6a6a" stroke-width="4.0" stroke-linecap="round"/>
<line x1="329.7" y1="39.9" x2="333.0" y2="51.1" stroke="#c4c4c4" stroke-width="3.2" stroke-linecap="round"/>
<line x1="330.4" y1="42.4" x2="331.8" y2="46.9" stroke="#f2f2f2" stroke-width="1.3" stroke-linecap="round" opacity="0.85"/>
<path d="M328.5,46 L333.5,46.5 L333,52 L329,51.5 Z" fill="#c9c9c9" stroke="#7a7a7a" stroke-width="0.6"/>
<line x1="250.9" y1="76.2" x2="253.8" y2="67.7" stroke="#4f4f4f" stroke-width="2.2" stroke-linecap="round"/>
<line x1="256.0" y1="76.5" x2="259.0" y2="68.0" stroke="#4f4f4f" stroke-width="2.2" stroke-linecap="round"/>
<line x1="261.1" y1="76.7" x2="264.1" y2="68.2" stroke="#a8560c" stroke-width="2.2" stroke-linecap="round"/>
<line x1="266.2" y1="77.0" x2="269.2" y2="68.5" stroke="#a8560c" stroke-width="2.2" stroke-linecap="round"/>
<line x1="247.5" y1="66.3" x2="250.1" y2="77.3" stroke="#6a6a6a" stroke-width="3.5" stroke-linecap="round"/>
<line x1="247.5" y1="66.3" x2="250.1" y2="77.3" stroke="#9a9a9a" stroke-width="2.7" stroke-linecap="round"/>
<line x1="248.0" y1="68.8" x2="249.2" y2="73.2" stroke="#c4c4c4" stroke-width="1.1" stroke-linecap="round" opacity="0.85"/>
<line x1="252.6" y1="66.6" x2="255.3" y2="77.5" stroke="#6a6a6a" stroke-width="3.5" stroke-linecap="round"/>
<line x1="252.6" y1="66.6" x2="255.3" y2="77.5" stroke="#9a9a9a" stroke-width="2.7" stroke-linecap="round"/>
<line x1="253.1" y1="69.1" x2="254.3" y2="73.4" stroke="#c4c4c4" stroke-width="1.1" stroke-linecap="round" opacity="0.85"/>
<line x1="257.7" y1="66.8" x2="260.4" y2="77.8" stroke="#a8560c" stroke-width="3.5" stroke-linecap="round"/>
<line x1="257.7" y1="66.8" x2="260.4" y2="77.8" stroke="#e08526" stroke-width="2.7" stroke-linecap="round"/>
<line x1="258.2" y1="69.3" x2="259.5" y2="73.7" stroke="#f2ad58" stroke-width="1.1" stroke-linecap="round" opacity="0.85"/>
<line x1="262.9" y1="67.1" x2="265.5" y2="78.0" stroke="#a8560c" stroke-width="3.5" stroke-linecap="round"/>
<line x1="262.9" y1="67.1" x2="265.5" y2="78.0" stroke="#e08526" stroke-width="2.7" stroke-linecap="round"/>
<line x1="263.4" y1="69.6" x2="264.6" y2="73.9" stroke="#f2ad58" stroke-width="1.1" stroke-linecap="round" opacity="0.85"/>
<line x1="268.0" y1="67.3" x2="270.6" y2="78.3" stroke="#6a6a6a" stroke-width="3.5" stroke-linecap="round"/>
<line x1="268.0" y1="67.3" x2="270.6" y2="78.3" stroke="#9a9a9a" stroke-width="2.7" stroke-linecap="round"/>
<line x1="268.5" y1="69.8" x2="269.7" y2="74.2" stroke="#c4c4c4" stroke-width="1.1" stroke-linecap="round" opacity="0.85"/>
<line x1="278.2" y1="79.2" x2="281.1" y2="71.5" stroke="#585858" stroke-width="2.6" stroke-linecap="round"/>
<line x1="284.4" y1="79.0" x2="287.3" y2="71.3" stroke="#585858" stroke-width="2.6" stroke-linecap="round"/>
<line x1="290.6" y1="78.8" x2="293.5" y2="71.1" stroke="#585858" stroke-width="2.6" stroke-linecap="round"/>
<line x1="296.8" y1="78.6" x2="299.7" y2="70.9" stroke="#585858" stroke-width="2.6" stroke-linecap="round"/>
<line x1="303.0" y1="78.4" x2="305.9" y2="70.7" stroke="#585858" stroke-width="2.6" stroke-linecap="round"/>
<line x1="273.3" y1="70.8" x2="277.4" y2="80.2" stroke="#6a6a6a" stroke-width="4.0" stroke-linecap="round"/>
<line x1="273.3" y1="70.8" x2="277.4" y2="80.2" stroke="#a2a2a2" stroke-width="3.2" stroke-linecap="round"/>
<line x1="274.1" y1="72.9" x2="276.0" y2="76.7" stroke="#cacaca" stroke-width="1.4" stroke-linecap="round" opacity="0.85"/>
<line x1="279.5" y1="70.6" x2="283.6" y2="80.0" stroke="#6a6a6a" stroke-width="4.0" stroke-linecap="round"/>
<line x1="279.5" y1="70.6" x2="283.6" y2="80.0" stroke="#a2a2a2" stroke-width="3.2" stroke-linecap="round"/>
<line x1="280.3" y1="72.7" x2="282.2" y2="76.5" stroke="#cacaca" stroke-width="1.4" stroke-linecap="round" opacity="0.85"/>
<line x1="285.7" y1="70.4" x2="289.8" y2="79.8" stroke="#6a6a6a" stroke-width="4.0" stroke-linecap="round"/>
<line x1="285.7" y1="70.4" x2="289.8" y2="79.8" stroke="#a2a2a2" stroke-width="3.2" stroke-linecap="round"/>
<line x1="286.5" y1="72.5" x2="288.4" y2="76.3" stroke="#cacaca" stroke-width="1.4" stroke-linecap="round" opacity="0.85"/>
<line x1="291.9" y1="70.2" x2="296.0" y2="79.6" stroke="#6a6a6a" stroke-width="4.0" stroke-linecap="round"/>
<line x1="291.9" y1="70.2" x2="296.0" y2="79.6" stroke="#a2a2a2" stroke-width="3.2" stroke-linecap="round"/>
<line x1="292.7" y1="72.3" x2="294.6" y2="76.1" stroke="#cacaca" stroke-width="1.4" stroke-linecap="round" opacity="0.85"/>
<line x1="298.1" y1="70.0" x2="302.2" y2="79.4" stroke="#6a6a6a" stroke-width="4.0" stroke-linecap="round"/>
<line x1="298.1" y1="70.0" x2="302.2" y2="79.4" stroke="#a2a2a2" stroke-width="3.2" stroke-linecap="round"/>
<line x1="298.9" y1="72.1" x2="300.8" y2="75.9" stroke="#cacaca" stroke-width="1.4" stroke-linecap="round" opacity="0.85"/>
<line x1="304.3" y1="69.8" x2="308.4" y2="79.2" stroke="#6a6a6a" stroke-width="4.0" stroke-linecap="round"/>
<line x1="304.3" y1="69.8" x2="308.4" y2="79.2" stroke="#a2a2a2" stroke-width="3.2" stroke-linecap="round"/>
<line x1="305.1" y1="71.9" x2="307.0" y2="75.7" stroke="#cacaca" stroke-width="1.4" stroke-linecap="round" opacity="0.85"/>
<line x1="315.2" y1="76.2" x2="314.3" y2="67.4" stroke="#666" stroke-width="2.3" stroke-linecap="round"/>
<line x1="320.2" y1="74.0" x2="319.3" y2="65.2" stroke="#666" stroke-width="2.3" stroke-linecap="round"/>
<line x1="307.6" y1="69.3" x2="315.0" y2="77.5" stroke="#6a6a6a" stroke-width="3.7" stroke-linecap="round"/>
<line x1="307.6" y1="69.3" x2="315.0" y2="77.5" stroke="#b4b4b4" stroke-width="2.9" stroke-linecap="round"/>
<line x1="309.2" y1="71.2" x2="312.3" y2="74.4" stroke="#d8d8d8" stroke-width="1.2" stroke-linecap="round" opacity="0.85"/>
<line x1="312.6" y1="67.0" x2="320.0" y2="75.2" stroke="#6a6a6a" stroke-width="3.7" stroke-linecap="round"/>
<line x1="312.6" y1="67.0" x2="320.0" y2="75.2" stroke="#b4b4b4" stroke-width="2.9" stroke-linecap="round"/>
<line x1="314.2" y1="68.9" x2="317.3" y2="72.1" stroke="#d8d8d8" stroke-width="1.2" stroke-linecap="round" opacity="0.85"/>
<line x1="317.6" y1="64.8" x2="325.0" y2="73.0" stroke="#6a6a6a" stroke-width="3.7" stroke-linecap="round"/>
<line x1="317.6" y1="64.8" x2="325.0" y2="73.0" stroke="#b4b4b4" stroke-width="2.9" stroke-linecap="round"/>
<line x1="319.2" y1="66.7" x2="322.3" y2="69.9" stroke="#d8d8d8" stroke-width="1.2" stroke-linecap="round" opacity="0.85"/>
<line x1="325.2" y1="71.7" x2="324.0" y2="63.0" stroke="#a8560c" stroke-width="2.2" stroke-linecap="round"/>
<line x1="329.9" y1="69.4" x2="328.7" y2="60.7" stroke="#a8560c" stroke-width="2.2" stroke-linecap="round"/>
<line x1="317.6" y1="64.8" x2="325.0" y2="72.9" stroke="#6a6a6a" stroke-width="3.5" stroke-linecap="round"/>
<line x1="317.6" y1="64.8" x2="325.0" y2="72.9" stroke="#b4b4b4" stroke-width="2.7" stroke-linecap="round"/>
<line x1="319.1" y1="66.7" x2="322.3" y2="69.8" stroke="#d8d8d8" stroke-width="1.2" stroke-linecap="round" opacity="0.85"/>
<line x1="322.3" y1="62.6" x2="329.8" y2="70.7" stroke="#a8560c" stroke-width="3.5" stroke-linecap="round"/>
<line x1="322.3" y1="62.6" x2="329.8" y2="70.7" stroke="#e08526" stroke-width="2.7" stroke-linecap="round"/>
<line x1="323.9" y1="64.4" x2="327.0" y2="67.6" stroke="#f2ad58" stroke-width="1.2" stroke-linecap="round" opacity="0.85"/>
<line x1="327.1" y1="60.3" x2="334.5" y2="68.4" stroke="#a8560c" stroke-width="3.5" stroke-linecap="round"/>
<line x1="327.1" y1="60.3" x2="334.5" y2="68.4" stroke="#e08526" stroke-width="2.7" stroke-linecap="round"/>
<line x1="328.6" y1="62.2" x2="331.8" y2="65.3" stroke="#f2ad58" stroke-width="1.2" stroke-linecap="round" opacity="0.85"/>
<path d="M307,77.5 L313.5,80 L312.5,82 L306.5,80 Z" fill="#9a9a9a"/>
<path d="M326,60 L328,57 M329,60.5 L331.5,58" fill="none" stroke="#e08526" stroke-width="0.8" stroke-linecap="round" stroke-linejoin="round"/>
<path d="M331,68 L334,69.5 L333.5,72" fill="none" stroke="#e08526" stroke-width="0.8" stroke-linecap="round" stroke-linejoin="round"/>
<path d="M307.5,33 L309,29" fill="none" stroke="#e08526" stroke-width="0.8" stroke-linecap="round" stroke-linejoin="round"/>
<path d="M300,50 L298.5,53.5" fill="none" stroke="#e08526" stroke-width="0.8" stroke-linecap="round" stroke-linejoin="round"/>
<circle cx="308.5" cy="28.5" r="0.65" fill="#3a2fc0"/>
<circle cx="306.5" cy="27.5" r="0.65" fill="#3a2fc0"/>
<circle cx="327.5" cy="41.5" r="0.65" fill="#3a2fc0"/>
<circle cx="333.8" cy="72.3" r="0.65" fill="#3a2fc0"/>
<circle cx="334.2" cy="70" r="0.65" fill="#3a2fc0"/>
<circle cx="292.5" cy="66.5" r="0.65" fill="#3a2fc0"/>
<circle cx="299" cy="54" r="0.65" fill="#3a2fc0"/>
<ellipse cx="265" cy="70" rx="7.6" ry="15" transform="rotate(4 265 70)" fill="none" stroke="#e8213f" stroke-width="0.9" stroke-dasharray="2.1 1.2"/>
<path d="M262,58 l2.5,4 l-1,3 M265.5,57.5 l2.5,4.5 l-0.5,3 M263,61 l3,-1" stroke="#e8213f" stroke-width="0.7" fill="none"/></g>
</svg>
</body></html>
